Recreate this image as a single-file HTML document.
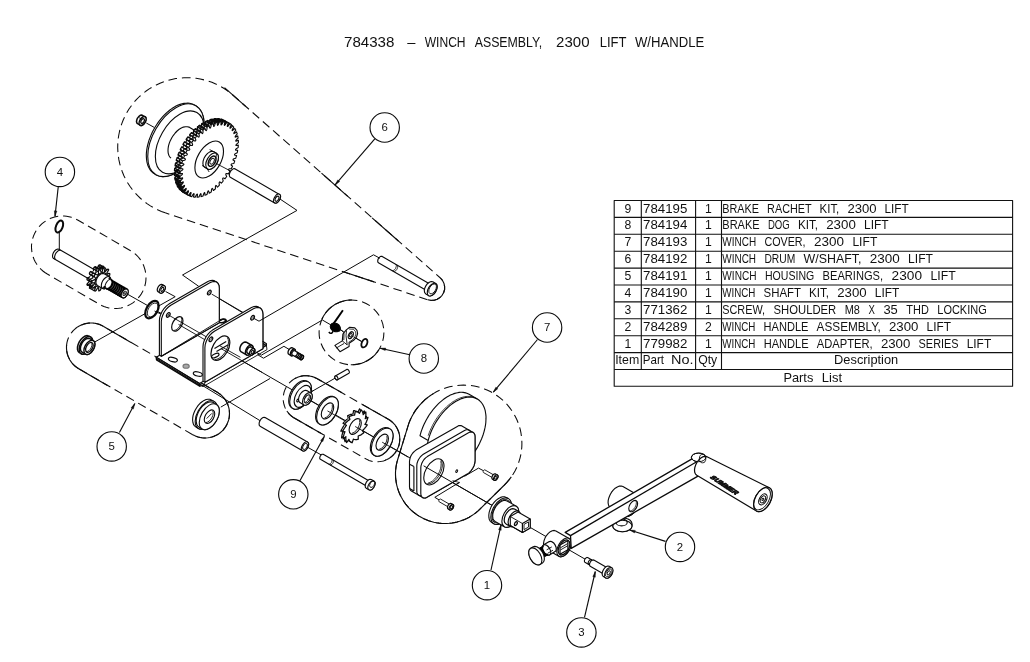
<!DOCTYPE html>
<html><head><meta charset="utf-8"><title>784338 - Winch Assembly</title>
<style>
html,body{margin:0;padding:0;background:#fff}
svg{display:block;will-change:transform;opacity:.999}
svg *{vector-effect:none}
.t{font-family:"Liberation Sans",sans-serif;fill:#111;stroke:none;word-spacing:3.5px}
.d{stroke-dasharray:8.7 4.9;stroke-width:1.05}
.thin path{stroke-width:1}
.bal circle{fill:#fff}
.tbl{stroke:#111;stroke-width:1.1}
.b{stroke-width:1.6}
</style></head><body>
<svg width="1030" height="662" viewBox="0 0 1030 662" fill="none" stroke="#0a0a0a" stroke-width="1.12" stroke-linejoin="round">
<rect width="1030" height="662" style="fill:#fff;stroke:none"/>
<g class="dash">
<path d="M165.2 212.8 161.4 211.4 157.6 209.8 154 207.9 150.4 205.9 147 203.6 143.7 201.1 140.6 198.5 137.7 195.7 134.9 192.7 132.3 189.5 129.9 186.2 127.6 182.8 125.6 179.2 123.8 175.5 122.3 171.7 120.9 167.9 119.8 163.9 118.9 159.9 118.3 155.9 117.9 151.8 117.7 147.7 117.8 143.6 118.1 139.6 118.7 135.5 119.5 131.5 120.5 127.5 121.8 123.6 123.3 119.8 125 116.1 126.9 112.5 129 109 131.4 105.7 133.9 102.4 136.6 99.4 139.5 96.5 142.6 93.8 145.8 91.3 149.2 88.9 152.7 86.8 156.3 84.9 160 83.2 163.8 81.7 167.7 80.4 171.7 79.4 175.7 78.6 179.8 78.1 183.9 77.8 188 77.7 192 77.9 196.1 78.3 200.2 79 204.1 79.9 208.1 81 211.9 82.3 215.7 83.9 219.4 85.7 222.9 87.8 226.4 90 229.7 92.4 232.8 95 440.4 278 442.5 280.4 443.9 283.2 444.6 286.3 444.6 289.5 443.7 292.5 442.1 295.3 439.9 297.6 437.2 299.2 434.2 300.2 431 300.4 427.9 299.8Z" class="d"/>
<path d="M46.9 273.8 44.9 272.5 42.9 271 41.1 269.4 39.4 267.7 37.9 265.8 36.5 263.8 35.2 261.7 34.1 259.5 33.3 257.3 32.5 254.9 32 252.6 31.7 250.2 31.5 247.7 31.5 245.3 31.8 242.9 32.2 240.5 32.8 238.1 33.6 235.8 34.6 233.6 35.7 231.4 37 229.4 38.5 227.4 40.1 225.6 41.8 223.9 43.7 222.4 45.7 221 47.8 219.7 50 218.6 52.2 217.8 54.6 217 56.9 216.5 59.3 216.2 61.8 216 64.2 216 66.6 216.3 69 216.7 71.4 217.3 73.7 218.1 75.9 219.1 78.1 220.2 130.6 250.7 132.7 252 134.7 253.5 136.5 255.2 138.3 257 139.8 258.9 141.2 261 142.5 263.2 143.6 265.4 144.4 267.8 145.1 270.2 145.6 272.6 145.9 275.1 146 277.6 145.9 280.1 145.6 282.6 145.1 285 144.4 287.4 143.5 289.7 142.4 292 141.2 294.1 139.7 296.2 138.1 298.1 136.4 299.9 134.5 301.6 132.5 303.1 130.4 304.4 128.2 305.5 125.9 306.5 123.5 307.3 121.1 307.9 118.7 308.3 116.2 308.5 113.7 308.5 111.2 308.3 108.7 307.9 106.3 307.3 103.9 306.5 101.6 305.5 99.4 304.3Z" class="d"/>
<path d="M78.7 368.7 77.1 367.7 75.6 366.5 74.1 365.3 72.8 363.9 71.5 362.4 70.4 360.8 69.5 359.2 68.6 357.4 67.9 355.7 67.3 353.8 66.9 351.9 66.6 350 66.5 348.1 66.5 346.2 66.7 344.3 67 342.4 67.5 340.5 68.1 338.7 68.9 336.9 69.8 335.2 70.8 333.6 72 332.1 73.2 330.6 74.6 329.3 76.1 328 77.7 326.9 79.3 326 81.1 325.1 82.8 324.4 84.7 323.8 86.6 323.4 88.5 323.1 90.4 323 92.3 323 94.2 323.2 96.1 323.5 98 324 99.8 324.6 101.6 325.4 103.3 326.3 217.3 392.3 218.9 393.4 220.5 394.5 222 395.9 223.4 397.3 224.6 398.8 225.7 400.4 226.7 402.1 227.6 403.9 228.2 405.8 228.8 407.7 229.2 409.6 229.4 411.6 229.5 413.5 229.4 415.5 229.2 417.5 228.8 419.4 228.2 421.3 227.5 423.1 226.7 424.9 225.7 426.6 224.6 428.2 223.3 429.8 222 431.2 220.5 432.5 218.9 433.7 217.2 434.7 215.5 435.6 213.7 436.4 211.8 437 209.9 437.5 207.9 437.8 206 438 204 438 202 437.8 200.1 437.5 198.2 437 196.3 436.4 194.5 435.6 192.7 434.7Z" class="d"/>
<path d="M294.7 418.3 293.2 417.4 291.7 416.3 290.4 415.1 289.1 413.8 288 412.5 286.9 411 286 409.5 285.2 407.9 284.5 406.2 284 404.5 283.6 402.8 283.3 401 283.2 399.2 283.2 397.4 283.4 395.6 283.7 393.9 284.1 392.1 284.7 390.4 285.4 388.8 286.2 387.2 287.1 385.7 288.2 384.2 289.4 382.9 290.7 381.6 292 380.5 293.5 379.4 295 378.5 296.6 377.7 298.3 377 300 376.5 301.7 376.1 303.5 375.8 305.3 375.7 307.1 375.7 308.9 375.9 310.6 376.2 312.4 376.6 314.1 377.2 315.7 377.9 317.3 378.7 388.3 419.2 389.9 420.2 391.3 421.3 392.7 422.5 394 423.8 395.2 425.2 396.2 426.7 397.1 428.3 397.9 430 398.6 431.7 399.1 433.4 399.5 435.2 399.7 437 399.8 438.9 399.7 440.7 399.5 442.5 399.2 444.3 398.7 446.1 398 447.8 397.2 449.5 396.3 451.1 395.3 452.6 394.1 454 392.9 455.4 391.5 456.6 390 457.7 388.5 458.7 386.9 459.5 385.2 460.3 383.5 460.9 381.7 461.3 379.9 461.6 378 461.8 376.2 461.8 374.4 461.6 372.6 461.4 370.8 460.9 369 460.4 367.3 459.6 365.7 458.8Z" class="d"/>
<path d="M407.9 426.3 409 422.9 410.3 419.7 411.9 416.5 413.6 413.4 415.5 410.4 417.6 407.6 419.9 404.9 422.3 402.3 424.8 399.8 427.6 397.6 430.4 395.5 433.4 393.6 436.4 391.8 439.6 390.3 442.9 388.9 446.2 387.8 449.6 386.8 453.1 386.1 456.6 385.5 460.1 385.2 463.6 385.1 467.2 385.2 470.7 385.5 474.2 386.1 477.6 386.8 481 387.8 484.4 388.9 487.6 390.3 490.8 391.8 493.9 393.6 496.8 395.5 499.7 397.6 502.4 399.9 505 402.3 507.4 404.9 509.6 407.6 511.7 410.5 513.6 413.4 515.3 416.5 516.9 419.7 518.2 423 519.3 426.3 520.3 429.7 521 433.2 521.5 436.7 521.8 440.2 521.9 443.8 521.8 447.3 521.4 450.8 520.9 454.3 520.1 457.8 519.1 461.1 518 464.5 516.6 467.7 515 470.9 513.2 474 511.3 476.9 509.2 479.7 506.9 482.4 504.4 485 479.7 509.3 477.8 511.1 475.8 512.8 473.7 514.4 471.5 515.8 469.2 517.2 466.9 518.4 464.6 519.5 462.1 520.4 459.6 521.3 457.1 522 454.6 522.6 452 523 449.4 523.3 446.8 523.5 444.2 523.5 441.5 523.4 438.9 523.1 436.3 522.7 433.8 522.2 431.2 521.5 428.7 520.8 426.3 519.8 423.9 518.8 421.6 517.6 419.3 516.3 417.1 514.9 415 513.3 412.9 511.7 411 510 409.1 508.1 407.4 506.2 405.7 504.1 404.2 502 402.8 499.8 401.5 497.5 400.3 495.2 399.2 492.8 398.3 490.4 397.5 487.9 396.8 485.3 396.3 482.8 395.9 480.2 395.6 477.6 395.5 475 395.5 472.3 395.7 469.7 396 467.1 396.4 464.6 397 462 397.7 459.5Z" class="d"/>
<circle cx="351.5" cy="332.4" r="32.4" class="d"/>
<path d="M321.9 319.1 322.6 317.7 323.4 316.3 324.2 315 325.1 313.7 326 312.4 327 311.2 328 310.1 329.1 308.9 330.3 307.9 331.5 306.9 332.8 306 334.1 305.1 335.4 304.3 336.8 303.5 338.2 302.9 339.6 302.2 341.1 301.7 342.6 301.2 344.1 300.9 345.7 300.5 347.2 300.3 348.8 300.1 350.3 300 351.9 300"/>
<path d="M378.8 349.9 378 351 377.2 352.2 376.3 353.2 375.4 354.3 374.4 355.3 373.5 356.2 372.4 357.1 371.3 358 370.2 358.8 369.1 359.6 367.9 360.3 366.7 361 365.5 361.6 364.2 362.2 362.9 362.7 361.6 363.2 360.3 363.6 359 363.9 357.6 364.2 356.3 364.4 354.9 364.6 353.5 364.7 352.1 364.8 350.8 364.8"/>
<path d="M224.5 87.7 245.6 106.3"/>
<path d="M321.5 173.2 347.7 196.3"/>
<path d="M372.1 217.8 398.4 241"/>
<path d="M344.2 272 373.9 281.9"/>
<path d="M440.4 278 442.5 280.4 443.9 283.2 444.6 286.3 444.6 289.5 443.7 292.5 442.1 295.3 439.9 297.6 437.2 299.2 434.2 300.2 431 300.4 427.9 299.8"/>
<path d="M78.8 368.7 77.7 368.1 76.8 367.4 75.8 366.7 74.9 366 74.1 365.2 73.2 364.4 72.4 363.5 71.7 362.6 71 361.6 70.3 360.7 69.7 359.7 69.2 358.6 68.7 357.6 68.2 356.5 67.8 355.4 67.4 354.3 67.2 353.1 66.9 352 66.7 350.8 66.6 349.6 66.5 348.5 66.5 347.3 66.5 346.1 66.6 344.9"/>
<path d="M77.3 327.2 78.3 326.6 79.2 326 80.3 325.5 81.3 325 82.4 324.6 83.4 324.2 84.5 323.9 85.6 323.6 86.7 323.4 87.9 323.2 89 323.1 90.1 323 91.3 323 92.4 323 93.6 323.1 94.7 323.3 95.8 323.5 96.9 323.7 98 324 99.1 324.4 100.2 324.8 101.2 325.2 102.2 325.7 103.2 326.3"/>
<path d="M103.2 326.3 131 342.4"/>
<path d="M217.3 392.3 218.9 393.4 220.5 394.5 222 395.9 223.4 397.3 224.6 398.8 225.7 400.4 226.7 402.1 227.6 403.9 228.2 405.8 228.8 407.7 229.2 409.6 229.4 411.6 229.5 413.5 229.4 415.5 229.2 417.5 228.8 419.4 228.2 421.3 227.5 423.1 226.7 424.9 225.7 426.6 224.6 428.2 223.3 429.8 222 431.2 220.5 432.5 218.9 433.7 217.2 434.7 215.5 435.6 213.7 436.4 211.8 437 209.9 437.5 207.9 437.8 206 438 204 438 202 437.8 200.1 437.5 198.2 437 196.3 436.4 194.5 435.6 192.7 434.7"/>
<path d="M78.7 368.7 107.5 385.4"/>
<path d="M217.3 392.3 200.5 382.6"/>
<path d="M511.3 476.9 509.2 479.7 506.9 482.4 504.4 485 479.7 509.3 477.8 511.1 475.8 512.8 473.7 514.4 471.5 515.8 469.2 517.2 466.9 518.4 464.6 519.5 462.1 520.4 459.6 521.3 457.1 522 454.6 522.6 452 523 449.4 523.3 446.8 523.5 444.2 523.5 441.5 523.4 438.9 523.1 436.3 522.7 433.8 522.2 431.2 521.5 428.7 520.8 426.3 519.8 423.9 518.8 421.6 517.6 419.3 516.3 417.1 514.9 415 513.3 412.9 511.7 411 510 409.1 508.1 407.4 506.2 405.7 504.1 404.2 502 402.8 499.8 401.5 497.5 400.3 495.2 399.2 492.8 398.3 490.4 397.5 487.9 396.8 485.3 396.3 482.8 395.9 480.2 395.6 477.6 395.5 475 395.5 472.3 395.7 469.7 396 467.1 396.4 464.6 397 462 397.7 459.5 407.9 426.3 409 422.9 410.3 419.7 411.9 416.5 413.6 413.4 415.5 410.4 417.6 407.6 419.9 404.9 422.3 402.3 424.8 399.8 427.6 397.6 430.4 395.5 433.4 393.6"/>
<path d="M294.7 418.3 293.2 417.4 291.7 416.3 290.4 415.1 289.1 413.8 288 412.5 286.9 411"/>
<path d="M295 378.5 296.6 377.7 298.3 377 300 376.5 301.7 376.1 303.5 375.8 305.3 375.7 307.1 375.7 308.9 375.9 310.6 376.2 312.4 376.6 314.1 377.2 315.7 377.9 317.3 378.7"/>
<path d="M317.3 378.7 342 392.8"/>
<path d="M294.7 418.3 320.8 433.2"/>
<path d="M362.3 404.4 388.3 419.2"/>
<path d="M388.3 419.2 389.9 420.2 391.3 421.3 392.7 422.5 394 423.8 395.2 425.2 396.2 426.7 397.1 428.3 397.9 430 398.6 431.7 399.1 433.4 399.5 435.2 399.7 437 399.8 438.9 399.7 440.7 399.5 442.5 399.2 444.3 398.7 446.1 398 447.8 397.2 449.5 396.3 451.1 395.3 452.6 394.1 454 392.9 455.4 391.5 456.6 390 457.7 388.5 458.7 386.9 459.5 385.2 460.3"/>
</g>
<g class="thin">
<path d="M277 197 297 210.4 182.5 275 198.7 286.3"/>
<path d="M146.3 123 154.2 127.4"/>
<path d="M59.3 231.5 59.3 249.2"/>
<path d="M127 293.9 147.7 305.6"/>
<path d="M165.6 291.5 175.2 296.7 94.7 342"/>
<path d="M211.7 294.1 242.1 312.4"/>
<path d="M157 311.2 210.8 339.3"/>
<path d="M176.9 323.2 585.7 559.5"/>
<path d="M220.8 407.1 270 378.5"/>
<path d="M200 384 260.6 421"/>
<path d="M307.7 447.3 321.7 455.2"/>
<path d="M336.4 377.4 311.1 391.9"/>
<path d="M340 329 345.2 333.7"/>
<path d="M352.1 335.8 361.8 341.6"/>
<path d="M456.7 471.1 464.5 475"/>
<path d="M464.5 476.3 478.5 468.1 484 471"/>
<path d="M459.3 482.4 434.8 497.3 440 500.5"/>
</g>
<g id="i6">
<path d="M137.6 123.7 136.8 122.9 136.5 121.5 136.8 119.8 137.5 118.1 138.7 116.6 140 115.5 141.3 115 142.4 115.3 145 116.8 145.8 117.6 146.1 119 145.8 120.7 145 122.4 143.9 123.9 142.6 125 141.3 125.5 140.1 125.2Z" fill="#fff" stroke-width="1.5"/>
<ellipse rx="2.8" ry="4.9" transform="translate(142.6 121) rotate(30)" fill="#fff" stroke-width="1.5"/>
<ellipse rx="1.5" ry="2.6" transform="translate(142.6 121) rotate(30)" stroke-width="1.3"/>
<path d="M138.8 117.5 141.4 119" stroke-width="0.8"/>
<path d="M154.6 173.9 153.2 173 151.9 171.9 150.7 170.6 149.7 169.1 148.8 167.5 148 165.8 147.4 163.9 146.9 161.9 146.6 159.7 146.4 157.5 146.3 155.1 146.4 152.7 146.7 150.2 147.1 147.6 147.7 145 148.4 142.4 149.2 139.7 150.2 137.1 151.3 134.4 152.5 131.8 153.9 129.2 155.3 126.7 156.9 124.3 158.5 121.9 160.3 119.6 162.1 117.4 163.9 115.4 165.9 113.5 167.9 111.7 169.9 110 171.9 108.6 174 107.3 176 106.1 178.1 105.1 180.1 104.4 182.1 103.8 184 103.4 186 103.2 187.8 103.1 189.6 103.3 191.3 103.7 192.9 104.2 194.4 105 195.8 105.8 197.2 106.7 198.4 107.8 199.6 109.1 200.7 110.6 201.6 112.2 202.3 113.9 203 115.8 203.4 117.8 203.8 120 204 122.2 204 124.6 203.9 127 203.6 129.5 203.2 132.1 202.7 134.7 202 137.3 201.1 140 200.1 142.6 199 145.3 197.8 147.9 196.5 150.5 195 153 193.5 155.4 191.8 157.8 190.1 160.1 188.3 162.3 186.4 164.3 184.5 166.2 182.5 168 180.5 169.7 178.4 171.1 176.4 172.4 174.3 173.6 172.3 174.6 170.2 175.3 168.2 175.9 166.3 176.3 164.4 176.5 162.5 176.6 160.8 176.4 159.1 176 157.5 175.5 156 174.7Z" fill="#fff"/>
<ellipse rx="23" ry="39.8" transform="translate(175.9 140.2) rotate(30)" fill="#fff"/>
<ellipse rx="19.9" ry="34.4" transform="translate(179.7 142.4) rotate(30)"/>
<path d="M171 158.1 169.7 156.8 168.8 155.2 168.2 153.2 168 150.9 168.1 148.5 168.5 145.8 169.3 143.1 170.4 140.4 171.8 137.8 173.4 135.3 175.2 133 177.1 131 179.2 129.3 181.3 128 183.4 127.1 185.4 126.7 187.3 126.7 189 127.1 190.5 128 200.9 134"/>
<path d="M224.3 168.2 224 168.7 223.7 169.2 223.4 169.7 223.1 170.2 222.8 170.7 221.3 170.3 220.6 170.4 220.3 170.9 220.4 171.7 221.2 173.2 220.8 173.7 220.5 174.1 220.1 174.6 219.8 175.1 219.5 175.6 218.1 174.8 217.5 174.8 217.1 175.2 217.1 176 217.7 177.8 217.3 178.3 216.9 178.7 216.5 179.1 216.2 179.5 215.8 180 214.7 178.9 214.1 178.7 213.7 179.1 213.6 180 213.9 182 213.5 182.4 213.1 182.8 212.7 183.2 212.3 183.5 211.9 183.9 211 182.5 210.5 182.2 210.1 182.6 209.9 183.5 209.9 185.7 209.5 186 209.1 186.3 208.6 186.7 208.2 187 207.8 187.3 207.2 185.6 206.7 185.2 206.3 185.5 206 186.4 205.7 188.7 205.3 189 204.9 189.3 204.5 189.5 204.1 189.8 203.7 190 203.3 188.1 202.9 187.6 202.5 187.8 202.1 188.7 201.6 191.1 201.2 191.3 200.7 191.5 200.3 191.7 199.9 191.9 199.5 192.1 199.4 190 199.1 189.3 198.7 189.5 198.2 190.4 197.5 192.8 197 193 196.6 193.1 196.2 193.2 195.8 193.3 195.4 193.4 195.6 191.1 195.4 190.4 195 190.5 194.5 191.4 193.5 193.8 193.1 193.8 192.7 193.9 192.3 193.9 191.9 194 191.5 194 191.9 191.6 191.9 190.8 191.5 190.8 190.9 191.6 189.7 194 189.3 194 188.9 193.9 188.6 193.9 188.2 193.8 187.9 193.8 188.5 191.4 188.6 190.5 188.3 190.4 187.6 191.1 186.2 193.4 185.8 193.3 185.5 193.2 185.2 193.1 184.9 193 184.5 192.8 185.5 190.4 185.6 189.5 185.3 189.3 184.6 190 183 192.1 182.7 191.9 182.4 191.7 182.1 191.5 181.9 191.3 181.6 191.1 182.7 188.7 183 187.8 182.7 187.6 182 188.1 180.3 190 180 189.8 179.8 189.5 179.6 189.3 179.3 189 179.1 188.7 180.4 186.4 180.8 185.5 180.6 185.2 179.8 185.6 178 187.3 177.8 186.9 177.6 186.6 177.5 186.3 177.3 186 177.1 185.6 178.6 183.5 179 182.5 178.9 182.2 178.2 182.5 176.3 183.9 176.2 183.5 176 183.1 175.9 182.8 175.8 182.4 175.6 182 177.3 180 177.8 179.1 177.7 178.7 177 178.8 175.1 179.9 175 179.5 175 179.1 174.9 178.7 174.8 178.2 174.8 177.8 176.5 176 177.1 175.2 177.1 174.7 176.4 174.7 174.5 175.5 174.5 175.1 174.5 174.6 174.5 174.1 174.5 173.6 174.5 173.2 176.3 171.6 176.9 170.8 177 170.4 176.4 170.3 174.5 170.7 174.6 170.2 174.6 169.7 174.6 169.2 174.7 168.7 174.8 168.2 176.6 167 177.3 166.2 177.4 165.8 176.9 165.5 175.1 165.6 175.2 165.1 175.3 164.6 175.4 164 175.5 163.5 175.6 163 177.5 162.1 178.2 161.4 178.4 161 177.9 160.6 176.3 160.3 176.4 159.8 176.6 159.2 176.8 158.7 176.9 158.2 177.1 157.6 178.9 157 179.7 156.5 179.8 156 179.5 155.5 178 154.9 178.2 154.4 178.4 153.9 178.7 153.3 178.9 152.8 179.1 152.3 180.9 152 181.6 151.6 181.8 151.1 181.5 150.5 180.3 149.6 180.5 149.1 180.8 148.5 181.1 148 181.3 147.5 181.6 147 183.2 147.1 184 146.8 184.2 146.3 184 145.6 183 144.4 183.3 143.9 183.6 143.4 183.9 142.9 184.2 142.4 184.5 141.9 186 142.3 186.7 142.2 187 141.7 187 140.9 186.2 139.4 186.5 138.9 186.8 138.5 187.2 138 187.5 137.5 187.9 137 189.2 137.8 189.9 137.8 190.2 137.4 190.2 136.6 189.7 134.8 190 134.3 190.4 133.9 190.8 133.5 191.1 133.1 191.5 132.6 192.7 133.7 193.3 133.9 193.6 133.5 193.7 132.6 193.5 130.6 193.8 130.2 194.2 129.8 194.6 129.4 195 129.1 195.4 128.7 196.3 130.1 196.9 130.4 197.2 130 197.5 129.1 197.5 126.9 197.9 126.6 198.3 126.3 198.7 125.9 199.1 125.6 199.5 125.3 200.2 127 200.6 127.4 201 127.1 201.3 126.2 201.6 123.9 202 123.6 202.4 123.3 202.8 123.1 203.2 122.8 203.7 122.6 204.1 124.5 204.4 125 204.8 124.8 205.2 123.9 205.7 121.5 206.2 121.3 206.6 121.1 207 120.9 207.4 120.7 207.8 120.5 207.9 122.6 208.2 123.3 208.6 123.1 209.1 122.2 209.9 119.8 210.3 119.6 210.7 119.5 211.1 119.4 211.5 119.3 211.9 119.2 211.7 121.5 211.9 122.2 212.3 122.1 212.9 121.2 213.9 118.8 214.3 118.8 214.6 118.7 215 118.7 215.4 118.6 215.8 118.6 215.4 121 215.5 121.8 215.8 121.8 216.4 121 217.7 118.6 218 118.6 218.4 118.7 218.7 118.7 219.1 118.8 219.4 118.8 218.8 121.2 218.8 122.1 219.1 122.2 219.7 121.5 221.2 119.2 221.5 119.3 221.8 119.4 222.1 119.5 222.5 119.6 222.8 119.8 221.9 122.2 221.7 123.1 222 123.3 222.7 122.6 224.3 120.5 224.6 120.7 224.9 120.9 225.2 121.1 225.5 121.3 225.7 121.5 224.6 123.9 224.4 124.8 224.6 125 225.3 124.5 227 122.6 227.3 122.8 227.5 123.1 227.8 123.3 228 123.6 228.2 123.9 226.9 126.2 226.6 127.1 226.7 127.4 227.5 127 229.3 125.3 229.5 125.7 229.7 126 229.9 126.3 230.1 126.6 230.2 127 228.7 129.1 228.3 130.1 228.4 130.4 229.2 130.1 231 128.7 231.2 129.1 231.3 129.5 231.4 129.8 231.6 130.2 231.7 130.6 230 132.6 229.5 133.5 229.6 133.9 230.3 133.8 232.2 132.7 232.3 133.1 232.4 133.5 232.4 133.9 232.5 134.4 232.6 134.8 230.8 136.6 230.2 137.4 230.3 137.9 230.9 137.9 232.8 137.1 232.8 137.5 232.8 138 232.9 138.5 232.9 139 232.9 139.4 231 141 230.4 141.8 230.4 142.2 231 142.3 232.8 141.9 232.8 142.4 232.7 142.9 232.7 143.4 232.6 143.9 232.6 144.4 230.7 145.6 230 146.4 229.9 146.8 230.5 147.1 232.2 147 232.1 147.5 232 148 231.9 148.6 231.8 149.1 231.7 149.6 229.8 150.5 229.1 151.2 229 151.6 229.4 152 231 152.3 230.9 152.8 230.7 153.4 230.6 153.9 230.4 154.4 230.2 155 228.4 155.6 227.7 156.1 227.5 156.6 227.9 157.1 229.3 157.7 229.1 158.2 228.9 158.7 228.7 159.3 228.5 159.8 228.2 160.3 226.5 160.6 225.7 161 225.5 161.5 225.8 162.1 227 163 226.8 163.5 226.5 164.1 226.3 164.6 226 165.1 225.7 165.6 224.1 165.5 223.4 165.8 223.1 166.3 223.3 167Z" fill="#fff" stroke-width="1.35"/>
<path d="M184.8 188.9 183.4 188 182.2 186.9 181 185.6 180 184.1 179.1 182.5 178.4 180.7 177.8 178.8 177.4 176.7 177.1 174.6 177 172.3 177 169.9 177.2 167.4 177.6 164.9 178.1 162.3 178.7 159.7 179.5 157.1 180.5 154.5 181.6 151.8 182.8 149.2 184.1 146.7 185.5 144.2 187.1 141.7 188.7 139.4 190.5 137.2 192.3 135 194.2 133 196.1 131.1 198.1 129.4 200.1 127.9 202.1 126.5 204.2 125.2 206.2 124.2 208.2 123.3 210.2 122.7 212.2 122.2 214.1 121.9 215.9 121.9 217.7 122 219.4 122.4 221 122.9 222.5 123.7 228.1 126.9 226.6 126.1 225 125.6 223.3 125.2 221.5 125.1 219.6 125.1 217.7 125.4 215.8 125.9 213.8 126.5 211.8 127.4 209.7 128.4 207.7 129.7 205.6 131.1 203.6 132.6 201.6 134.3 199.7 136.2 197.8 138.2 196 140.4 194.3 142.6 192.6 144.9 191.1 147.4 189.6 149.9 188.3 152.4 187.1 155 186 157.7 185.1 160.3 184.3 162.9 183.6 165.5 183.1 168.1 182.8 170.6 182.6 173.1 182.5 175.5 182.7 177.8 182.9 179.9 183.4 182 183.9 183.9 184.7 185.7 185.5 187.3 186.6 188.8 187.7 190.1 189 191.2 190.4 192.1Z" fill="#fff" stroke-width="0"/>
<path d="M186.2 193.4L191.7 196.6M184.5 192.8L190.1 196M183 192.1L188.6 195.3M181.6 191.1L187.1 194.3M180.3 190L185.8 193.2M179.1 188.7L184.6 191.9M178 187.3L183.6 190.5M177.1 185.6L182.6 188.8M176.3 183.9L181.8 187.1M175.6 182L181.2 185.2M175.1 179.9L180.7 183.1M174.8 177.8L180.3 181M174.5 175.5L180.1 178.7M174.5 173.2L180 176.4M174.5 170.7L180.1 173.9M174.8 168.2L180.3 171.4M175.1 165.6L180.7 168.8M175.6 163L181.2 166.2M176.3 160.3L181.8 163.5M177.1 157.6L182.6 160.8M178 154.9L183.6 158.1M179.1 152.3L184.6 155.5M180.3 149.6L185.8 152.8M181.6 147L187.1 150.2M183 144.4L188.6 147.6M184.5 141.9L190.1 145.1M186.2 139.4L191.7 142.6M187.9 137L193.4 140.2M189.7 134.8L195.2 138M191.5 132.6L197.1 135.8M193.5 130.6L199 133.8M195.4 128.7L201 131.9M197.5 126.9L203 130.1M199.5 125.3L205 128.5M201.6 123.9L207.1 127.1M203.7 122.6L209.2 125.8M205.7 121.5L211.3 124.7M207.8 120.5L213.4 123.7M209.9 119.8L215.4 123M211.9 119.2L217.4 122.4M213.9 118.8L219.4 122M215.8 118.6L221.3 121.8M217.7 118.6L223.2 121.8M219.4 118.8L225 122M221.2 119.2L226.7 122.4M222.8 119.8L228.3 123M224.3 120.5L229.9 123.7M225.7 121.5L231.3 124.7M227 122.6L232.6 125.8" stroke-width="1.35"/>
<path d="M185.7 189.4 185.5 189.2 184.8 189.7 183.1 191.6 182.8 191.4 182.6 191.1 182.3 190.9 182.1 190.6 181.9 190.3 183.2 188 183.5 187.1 183.3 186.8 182.6 187.2 180.8 188.9 180.6 188.5 180.4 188.2 180.2 187.9 180 187.6 179.9 187.2 181.4 185.1 181.8 184.1 181.7 183.8 180.9 184.1 179.1 185.5 178.9 185.1 178.8 184.7 178.7 184.4 178.5 184 178.4 183.6 180.1 181.6 180.6 180.7 180.5 180.3 179.8 180.4 177.9 181.5 177.8 181.1 177.7 180.7 177.7 180.3 177.6 179.8 177.5 179.4 179.3 177.6 179.9 176.8 179.8 176.3 179.2 176.3 177.3 177.1 177.3 176.7 177.3 176.2 177.2 175.7 177.2 175.2 177.2 174.8 179.1 173.2 179.7 172.4 179.7 172 179.1 171.9 177.3 172.3 177.3 171.8 177.4 171.3 177.4 170.8 177.5 170.3 177.5 169.8 179.4 168.6 180.1 167.8 180.2 167.4 179.6 167.1 177.9 167.2 178 166.7 178.1 166.2 178.2 165.6 178.3 165.1 178.4 164.6 180.3 163.7 181 163 181.1 162.6 180.7 162.2 179.1 161.9 179.2 161.4 179.4 160.8 179.5 160.3 179.7 159.8 179.9 159.2 181.7 158.6 182.4 158.1 182.6 157.6 182.2 157.1 180.8 156.5 181 156 181.2 155.5 181.4 154.9 181.6 154.4 181.9 153.9 183.6 153.6 184.4 153.2 184.6 152.7 184.3 152.1 183.1 151.2 183.3 150.7 183.6 150.1 183.8 149.6 184.1 149.1 184.4 148.6 186 148.7 186.7 148.4 187 147.9 186.8 147.2 185.8 146 186.1 145.5 186.4 145 186.7 144.5 187 144 187.3 143.5 188.8 143.9 189.5 143.8 189.8 143.3 189.7 142.5 188.9 141 189.3 140.5 189.6 140.1 189.9 139.6 190.3 139.1 190.6 138.6 192 139.4 192.6 139.4 193 139 193 138.2 192.4 136.4 192.8 135.9 193.2 135.5 193.5 135.1 193.9 134.7 194.3 134.2 195.4 135.3 196 135.5 196.4 135.1 196.5 134.2 196.2 132.2 196.6 131.8 197 131.4 197.4 131 197.8 130.7 198.2 130.3 199.1 131.7 199.6 132 200 131.6 200.2 130.7 200.2 128.5 200.6 128.2 201 127.9 201.5 127.5 201.9 127.2 202.3 126.9 202.9 128.6 203.4 129 203.8 128.7 204.1 127.8 204.3 125.5 204.8 125.2 205.2 124.9 205.6 124.7 206 124.4 206.4 124.2 206.8 126.1 207.2 126.6 207.6 126.4 208 125.5 208.5 123.1 208.9 122.9 209.3 122.7 209.8 122.5 210.2 122.3 210.6 122.1 210.7 124.2 211 124.9 211.4 124.7 211.9 123.8 212.6 121.4 213 121.2 213.5 121.1 213.9 121 214.3 120.9 214.7 120.8 214.5 123.1 214.7 123.8 215.1 123.7 215.6 122.8 216.6 120.4 217 120.4 217.4 120.3 217.8 120.3 218.2 120.2 218.6 120.2 218.1 122.6 218.2 123.4 218.6 123.4 219.2 122.6 220.4 120.2 220.8 120.2 221.2 120.3 221.5 120.3 221.9 120.4 222.2 120.4 221.5 122.8 221.5 123.7 221.8 123.8 222.5 123.1 223.9 120.8 224.3 120.9 224.6 121 224.9 121.1" stroke-width="1.35"/>
<path d="M229.9 171.4 229.6 171.9 229.3 172.4 229 172.9 228.6 173.4 228.3 173.9 226.8 173.5 226.1 173.6 225.8 174.1 225.9 174.9 226.7 176.4 226.4 176.9 226 177.3 225.7 177.8 225.3 178.3 225 178.8 223.7 178 223 178 222.7 178.4 222.7 179.2 223.2 181 222.8 181.5 222.5 181.9 222.1 182.3 221.7 182.7 221.3 183.2 220.2 182.1 219.6 181.9 219.3 182.3 219.1 183.2 219.4 185.2 219 185.6 218.6 186 218.2 186.4 217.8 186.7 217.4 187.1 216.5 185.7 216 185.4 215.6 185.8 215.4 186.7 215.4 188.9 215 189.2 214.6 189.5 214.2 189.9 213.8 190.2 213.4 190.5 212.7 188.8 212.3 188.4 211.9 188.7 211.5 189.6 211.3 191.9 210.9 192.2 210.5 192.5 210 192.7 209.6 193 209.2 193.2 208.8 191.3 208.4 190.8 208.1 191 207.6 191.9 207.1 194.3 206.7 194.5 206.3 194.7 205.9 194.9 205.5 195.1 205 195.3 204.9 193.2 204.6 192.5 204.3 192.7 203.8 193.6 203 196 202.6 196.2 202.2 196.3 201.8 196.4 201.4 196.5 201 196.6 201.1 194.3 200.9 193.6 200.6 193.7 200 194.6 199 197 198.6 197 198.2 197.1 197.8 197.1 197.5 197.2 197.1 197.2 197.5 194.8 197.4 194 197.1 194 196.4 194.8 195.2 197.2 194.8 197.2 194.5 197.1 194.1 197.1 193.8 197 193.4 197 194.1 194.6 194.1 193.7 193.8 193.6 193.1 194.3 191.7 196.6 191.4 196.5 191 196.4 190.7 196.3 190.4 196.2 190.1 196 191 193.6 191.1 192.7 190.8 192.5 190.1 193.2 188.6 195.3 188.3 195.1 188 194.9 187.7 194.7 187.4 194.5 187.1 194.3 188.3 191.9 188.5 191 188.3 190.8 187.5 191.3 185.8 193.2 185.6 193 185.3 192.7 185.1 192.5 184.9 192.2 184.6 191.9 186 189.6 186.3 188.7 186.1 188.4 185.4 188.8 183.6 190.5 183.4 190.1 183.2 189.8 183 189.5 182.8 189.2 182.6 188.8 184.2 186.7 184.6 185.7 184.4 185.4 183.7 185.7 181.8 187.1 181.7 186.7 181.6 186.3 181.4 186 181.3 185.6 181.2 185.2 182.9 183.2 183.3 182.3 183.3 181.9 182.6 182 180.7 183.1 180.6 182.7 180.5 182.3 180.4 181.9 180.4 181.4 180.3 181 182.1 179.2 182.6 178.4 182.6 177.9 181.9 177.9 180.1 178.7 180 178.3 180 177.8 180 177.3 180 176.8 180 176.4 181.9 174.8 182.5 174 182.5 173.6 181.9 173.5 180.1 173.9 180.1 173.4 180.1 172.9 180.2 172.4 180.2 171.9 180.3 171.4 182.2 170.2 182.9 169.4 182.9 169 182.4 168.7 180.7 168.8 180.8 168.3 180.9 167.8 181 167.2 181.1 166.7 181.2 166.2 183.1 165.3 183.8 164.6 183.9 164.2 183.4 163.8 181.8 163.5 182 163 182.1 162.4 182.3 161.9 182.5 161.4 182.6 160.8 184.5 160.2 185.2 159.7 185.4 159.2 185 158.7 183.6 158.1 183.8 157.6 184 157.1 184.2 156.5 184.4 156 184.6 155.5 186.4 155.2 187.1 154.8 187.4 154.3 187.1 153.7 185.8 152.8 186.1 152.3 186.3 151.7 186.6 151.2 186.9 150.7 187.1 150.2 188.8 150.3 189.5 150 189.8 149.5 189.6 148.8 188.6 147.6 188.8 147.1 189.1 146.6 189.5 146.1 189.8 145.6 190.1 145.1 191.6 145.5 192.3 145.4 192.6 144.9 192.5 144.1 191.7 142.6 192 142.1 192.4 141.7 192.7 141.2 193.1 140.7 193.4 140.2 194.7 141 195.4 141 195.7 140.6 195.8 139.8 195.2 138 195.6 137.5 195.9 137.1 196.3 136.7 196.7 136.3 197.1 135.8 198.2 136.9 198.8 137.1 199.1 136.7 199.3 135.8 199 133.8 199.4 133.4 199.8 133 200.2 132.6 200.6 132.3 201 131.9 201.9 133.3 202.4 133.6 202.8 133.2 203 132.3 203 130.1 203.4 129.8 203.8 129.5 204.2 129.1 204.6 128.8 205 128.5 205.7 130.2 206.2 130.6 206.5 130.3 206.9 129.4 207.1 127.1 207.5 126.8 208 126.5 208.4 126.3 208.8 126 209.2 125.8 209.6 127.7 210 128.2 210.3 128 210.8 127.1 211.3 124.7 211.7 124.5 212.1 124.3 212.5 124.1 212.9 123.9 213.4 123.7 213.5 125.8 213.8 126.5 214.1 126.3 214.6 125.4 215.4 123 215.8 122.8 216.2 122.7 216.6 122.6 217 122.5 217.4 122.4 217.3 124.7 217.5 125.4 217.8 125.3 218.4 124.4 219.4 122 219.8 122 220.2 121.9 220.6 121.9 221 121.8 221.3 121.8 220.9 124.2 221 125 221.3 125 222 124.2 223.2 121.8 223.6 121.8 223.9 121.9 224.3 121.9 224.6 122 225 122 224.3 124.4 224.3 125.3 224.6 125.4 225.3 124.7 226.7 122.4 227 122.5 227.4 122.6 227.7 122.7 228 122.8 228.3 123 227.4 125.4 227.3 126.3 227.6 126.5 228.3 125.8 229.9 123.7 230.1 123.9 230.4 124.1 230.7 124.3 231 124.5 231.3 124.7 230.1 127.1 229.9 128 230.1 128.2 230.9 127.7 232.6 125.8 232.8 126 233.1 126.3 233.3 126.5 233.5 126.8 233.8 127.1 232.4 129.4 232.1 130.3 232.3 130.6 233 130.2 234.8 128.5 235 128.9 235.2 129.2 235.4 129.5 235.6 129.8 235.8 130.2 234.2 132.3 233.8 133.3 234 133.6 234.7 133.3 236.6 131.9 236.7 132.3 236.8 132.7 237 133 237.1 133.4 237.2 133.8 235.6 135.8 235.1 136.7 235.2 137.1 235.8 137 237.7 135.9 237.8 136.3 237.9 136.7 238 137.1 238 137.6 238.1 138 236.3 139.8 235.8 140.6 235.8 141.1 236.5 141.1 238.3 140.3 238.4 140.7 238.4 141.2 238.4 141.7 238.4 142.2 238.4 142.6 236.6 144.2 235.9 145 235.9 145.4 236.5 145.5 238.3 145.1 238.3 145.6 238.3 146.1 238.2 146.6 238.2 147.1 238.1 147.6 236.2 148.8 235.5 149.6 235.5 150 236 150.3 237.7 150.2 237.6 150.7 237.6 151.2 237.4 151.8 237.3 152.3 237.2 152.8 235.3 153.7 234.6 154.4 234.5 154.8 235 155.2 236.6 155.5 236.4 156 236.3 156.6 236.1 157.1 235.9 157.6 235.8 158.2 233.9 158.8 233.2 159.3 233 159.8 233.4 160.3 234.8 160.9 234.6 161.4 234.4 161.9 234.2 162.5 234 163 233.8 163.5 232 163.8 231.3 164.2 231.1 164.7 231.3 165.3 232.6 166.2 232.3 166.7 232.1 167.3 231.8 167.8 231.5 168.3 231.3 168.8 229.6 168.7 228.9 169 228.6 169.5 228.8 170.2Z" fill="#fff" stroke-width="1.1"/>
<ellipse rx="11.7" ry="20.2" transform="translate(209.2 159.5) rotate(30)"/>
<path d="M204.7 167.3 203.4 165.9 202.9 163.8 203.1 161.1 204 158.3 205.6 155.6 207.6 153.4 209.8 151.9 211.9 151.3 213.7 151.7 216.6 153.4 217.9 154.8 218.5 156.9 218.3 159.6 217.4 162.4 215.8 165.1 213.8 167.3 211.6 168.8 209.5 169.4 207.6 169Z" fill="#fff"/>
<ellipse rx="5.2" ry="9" transform="translate(212.1 161.2) rotate(30)" fill="#fff"/>
<ellipse rx="3.2" ry="5.6" transform="translate(212.1 161.2) rotate(30)" stroke-width="1.5"/>
<ellipse rx="1.8" ry="3.2" transform="translate(212.1 161.2) rotate(30)" stroke-width="0.9"/>
<path d="M209.6 149.6 216.6 153 215.8 158.6" stroke-width="0.9"/>
<path d="M202 165.4 207 168.6 209.2 172" stroke-width="0.9"/>
<path d="M215.6 163.2 232.8 172.2" stroke-width="0.9"/>
<path d="M230.3 177.3 229.6 176.5 229.3 175.1 229.6 173.4 230.3 171.7 231.4 170.2 232.8 169.1 234.1 168.6 235.2 168.9 279.5 194.4 280.2 195.3 280.5 196.6 280.2 198.3 279.5 200.1 278.3 201.6 277 202.7 275.7 203.1 274.6 202.9Z" fill="#fff"/>
<ellipse rx="2.8" ry="4.9" transform="translate(277 198.6) rotate(30)" fill="#fff"/>
<ellipse rx="1.6" ry="2.8" transform="translate(277 198.7) rotate(30)"/>
</g>
<g id="i4">
<ellipse rx="3.3" ry="6.3" transform="translate(59.3 226.6) rotate(22)" stroke-width="2"/>
<path d="M53.6 258.6 52.8 257.6 52.5 256.1 52.8 254.2 53.6 252.3 54.8 250.7 56.3 249.5 57.8 249 59 249.2 98.8 272.2 99.7 273.2 100 274.7 99.7 276.6 98.8 278.5 97.6 280.1 96.1 281.3 94.7 281.8 93.4 281.6Z" fill="#fff"/>
<path d="M55.5 259.6 54.7 258.4 54.6 256.6 55.2 254.6 56.3 252.6 57.8 251.1 59.4 250.3 60.8 250.3"/>
<path d="M99.7 280.4 100.4 282.2 100.3 283.4 99.7 284.1 99.1 284.8 97.9 283.5 97.3 283.1 96.8 283.5 96.4 283.8 95.9 286.3 95.3 287.6 94.6 287.9 94 288.2 93.9 285.9 93.7 284.9 93.3 285 92.8 285 91.4 287.4 90.4 288.3 89.9 288.2 89.4 287.9 90.4 285.4 90.8 284.1 90.5 283.8 90.3 283.5 88.4 285.1 87.3 285.4 87.1 284.8 87 284.2 88.7 282.1 89.5 281 89.5 280.4 89.5 279.9 87.7 280.2 87 279.7 87.1 278.9 87.3 278 89.3 277.1 90.3 276.5 90.5 275.9 90.8 275.3 89.6 274.1 89.4 273.1 89.9 272.3 90.4 271.5 92 272 92.8 272.1 93.2 271.6 93.6 271.2 93.5 268.9 93.9 267.6 94.6 267.1 95.2 266.6 95.9 268.4 96.3 269.2 96.8 269 97.2 268.8 98.2 266.2 99 265 99.6 265 100.2 265 99.8 267.5 99.7 268.7 100 268.8 100.4 268.9 102.1 266.9 103.2 266.2 103.5 266.6 103.9 267.1 102.4 269.5 101.8 270.7 102 271.1 102.1 271.6 104.1 270.6 105 270.7 105 271.5 105 272.2 103 273.8 102.1 274.7 102 275.3 101.8 275.8 103.4 276.3 103.9 277.1 103.6 278 103.2 278.8 101.3 279 100.4 279.3 100.1 279.9Z" fill="#fff" stroke-width="1.3"/>
<path d="M91.4 284.5 90.1 283.2 89.5 281.1 89.7 278.4 90.7 275.5 92.2 272.8 94.2 270.6 96.4 269.1 98.6 268.5 100.4 269 105.2 271.8 103.4 271.3 101.3 271.9 99.1 273.4 97.1 275.6 95.5 278.3 94.6 281.2 94.4 283.9 95 286 96.2 287.3Z" fill="#fff" stroke-width="0"/>
<path d="M89.4 287.9L94.3 290.7M88.4 285.1L93.2 287.9M87 284.2L91.8 287M87.7 280.2L92.5 283M87.3 278L92.2 280.8M89.6 274.1L94.5 276.9M90.4 271.5L95.2 274.3M93.5 268.9L98.4 271.7M95.2 266.6L100 269.4M98.2 266.2L103 269M100.2 265L105.1 267.8M102.1 266.9L107 269.7" stroke-width="1.3"/>
<path d="M93.2 285.5 93 285.2 92.7 284.9 90.8 286.5 89.8 286.8 89.6 286.2 89.4 285.6 91.2 283.5 92 282.4 91.9 281.8 92 281.3 90.1 281.6 89.4 281.1 89.5 280.3 89.7 279.4 91.7 278.5 92.7 277.9 92.9 277.3 93.2 276.7 92 275.5 91.8 274.5 92.3 273.7 92.8 272.9 94.4 273.4 95.2 273.5 95.6 273 96.1 272.6 95.9 270.3 96.3 269 97 268.5 97.6 268 98.3 269.8 98.7 270.6 99.2 270.4 99.6 270.2 100.6 267.6 101.5 266.4 102.1 266.4 102.6 266.4 102.2 268.9 102.1 270.1" stroke-width="1.3"/>
<path d="M104.6 283.2 105.2 285 105.1 286.2 104.5 286.9 103.9 287.6 102.8 286.3 102.1 285.9 101.7 286.3 101.2 286.6 100.8 289.1 100.1 290.4 99.5 290.7 98.8 291 98.7 288.7 98.5 287.7 98.1 287.8 97.7 287.8 96.3 290.2 95.3 291.1 94.8 291 94.3 290.7 95.3 288.2 95.6 286.9 95.4 286.6 95.2 286.3 93.2 287.9 92.2 288.2 92 287.6 91.8 287 93.6 284.9 94.4 283.8 94.4 283.2 94.4 282.7 92.5 283 91.8 282.5 92 281.7 92.2 280.8 94.2 279.9 95.1 279.3 95.4 278.7 95.6 278.1 94.5 276.9 94.3 275.9 94.7 275.1 95.2 274.3 96.8 274.8 97.7 274.9 98.1 274.4 98.5 274 98.4 271.7 98.8 270.4 99.4 269.9 100 269.4 100.7 271.2 101.2 272 101.6 271.8 102.1 271.6 103 269 103.9 267.8 104.5 267.8 105.1 267.8 104.6 270.3 104.5 271.5 104.9 271.6 105.2 271.7 107 269.7 108 269 108.4 269.4 108.7 269.9 107.3 272.3 106.7 273.5 106.8 273.9 106.9 274.4 108.9 273.4 109.8 273.5 109.8 274.3 109.8 275 107.9 276.6 107 277.5 106.8 278.1 106.7 278.6 108.3 279.1 108.7 279.9 108.4 280.8 108 281.6 106.2 281.8 105.2 282.1 104.9 282.7Z" fill="#fff" stroke-width="1.2"/>
<ellipse rx="4.6" ry="8" transform="translate(100.7 279.6) rotate(30)"/>
<path d="M97.3 285.4 96.3 284.2 95.9 282.3 96.3 280 97.3 277.6 98.9 275.5 100.7 274 102.6 273.4 104.1 273.7 109.5 276.8 110.5 278 110.9 279.9 110.5 282.2 109.5 284.6 107.9 286.7 106.1 288.2 104.3 288.8 102.7 288.5Z" fill="#fff"/>
<ellipse rx="3.9" ry="6.8" transform="translate(106.1 282.7) rotate(30)" fill="#fff"/>
<path d="M108.1 276 109.4 277.1 109.9 279 109.5 281.5 108.5 284 106.8 286.2 104.8 287.7 102.9 288.3 101.4 287.7" stroke-width="0.9"/>
<path d="M103.4 287.2 104.7 287.5 106.1 287 107.5 285.8 108.7 284.2 109.6 282.3 109.8 280.5 109.6 279 108.7 278.1 111.5 279.7 112.3 280.6 112.6 282.1 112.3 283.9 111.5 285.8 110.3 287.4 108.9 288.6 107.4 289.1 106.2 288.8Z" fill="#fff" stroke-width="1"/>
<ellipse rx="3.1" ry="5.3" transform="translate(108.9 284.2) rotate(30)" fill="#fff" stroke-width="1"/>
<ellipse rx="0.5" ry="0.9" transform="translate(104.6 287.2) rotate(30)" stroke-width="1.2"/>
<path d="M106.3 288.3 107.4 288.5 108.7 288.1 110 287 111.1 285.5 111.8 283.8 112.1 282.2 111.8 280.8 111.1 280 127.1 289.2 127.9 290.1 128.1 291.4 127.9 293.1 127.1 294.8 126 296.3 124.7 297.3 123.4 297.8 122.3 297.6Z" fill="#666" stroke-width="1.2"/>
<ellipse rx="2.8" ry="4.8" transform="translate(124.7 293.4) rotate(30)" fill="#666" stroke-width="1.2"/>
<path d="M111.3 280 112.4 280.7 112.8 282.1 112.6 284 111.8 285.9 110.5 287.6 109 288.7 107.5 289.1 106.4 288.5M113.1 281 114.1 281.7 114.6 283.1 114.4 285 113.6 287 112.3 288.7 110.8 289.8 109.3 290.1 108.2 289.5M114.9 282 115.9 282.7 116.4 284.2 116.2 286 115.4 288 114.1 289.7 112.5 290.8 111.1 291.1 110 290.6M116.7 283.1 117.7 283.8 118.1 285.2 117.9 287.1 117.1 289 115.8 290.7 114.3 291.8 112.9 292.1 111.7 291.6M118.4 284.1 119.5 284.8 119.9 286.2 119.7 288.1 118.9 290 117.6 291.7 116.1 292.8 114.6 293.2 113.5 292.6M120.2 285.1 121.2 285.8 121.7 287.2 121.5 289.1 120.7 291.1 119.4 292.8 117.9 293.9 116.4 294.2 115.3 293.6M122 286.1 123 286.8 123.5 288.3 123.3 290.1 122.5 292.1 121.2 293.8 119.6 294.9 118.2 295.2 117.1 294.7M123.8 287.2 124.8 287.9 125.3 289.3 125.1 291.2 124.2 293.1 122.9 294.8 121.4 295.9 120 296.2 118.8 295.7M125.5 288.2 126.6 288.9 127 290.3 126.8 292.2 126 294.1 124.7 295.8 123.2 296.9 121.7 297.3 120.6 296.7" stroke-width="1.5" stroke="#000"/>
<ellipse rx="2.8" ry="4.8" transform="translate(124.7 293.4) rotate(30)" fill="#fff" stroke-width="1.2"/>
<ellipse rx="1.4" ry="2.4" transform="translate(124.7 293.4) rotate(30)" stroke-width="0.9"/>
<ellipse rx="0.5" ry="0.9" transform="translate(124.7 293.4) rotate(30)" stroke-width="0.8"/>
<ellipse rx="5.5" ry="9.6" transform="translate(152 309.6) rotate(30)" fill="#fff" stroke-width="2.2"/>
<ellipse rx="4.4" ry="7.6" transform="translate(152.7 310) rotate(30)" stroke-width="0.8"/>
<path d="M154.5 311 166.4 316.8" stroke-width="0.9"/>
<path d="M158.1 291.8 157.5 291.1 157.2 289.9 157.5 288.5 158.1 287 159.1 285.7 160.2 284.8 161.3 284.4 162.3 284.6 164.4 285.8 165 286.5 165.2 287.7 165 289.1 164.4 290.6 163.4 291.9 162.3 292.8 161.1 293.2 160.2 293Z" fill="#fff" stroke-width="1.2"/>
<ellipse rx="2.4" ry="4.2" transform="translate(162.3 289.4) rotate(30)" fill="#fff" stroke-width="1.2"/>
<ellipse rx="1.2" ry="2.1" transform="translate(162.3 289.4) rotate(30)" stroke-width="1.1"/>
</g>
<g id="i5">
<path d="M79.4 352.7 78.2 351.5 77.5 349.5 77.5 347 78.2 344.3 79.4 341.6 81.1 339.2 83.1 337.3 85.3 336 87.3 335.6 89 336.1 90.7 337.1 92 338.3 92.6 340.3 92.6 342.8 92 345.5 90.7 348.2 89 350.6 87 352.5 84.9 353.8 82.9 354.2 81.1 353.7Z" fill="#fff" stroke-width="1.5"/>
<ellipse rx="5.5" ry="9.6" transform="translate(85.9 345.4) rotate(30)" fill="#fff" stroke-width="1.5"/>
<path d="M82 352.2 80.8 350.8 80.4 348.6 80.8 345.9 82 343.1 83.8 340.7 85.9 339 88 338.3 89.8 338.6 93.3 340.6 94.5 342 94.9 344.2 94.5 346.9 93.3 349.7 91.5 352.1 89.4 353.8 87.3 354.5 85.5 354.2Z" fill="#fff" stroke-width="1.4"/>
<ellipse rx="4.5" ry="7.8" transform="translate(89.4 347.4) rotate(30)" fill="#fff" stroke-width="1.4"/>
<ellipse rx="3.1" ry="5.4" transform="translate(89.4 347.4) rotate(30)" stroke-width="1.3"/>
<path d="M91.1 342.2 91.9 343.4 92 345.2 91.4 347.2 90.3 349.2 88.8 350.7 87.2 351.5 85.7 351.5" stroke-width="0.9"/>
<path d="M195.8 426.9 194.5 425.9 193.5 424.4 192.9 422.5 192.6 420.3 192.7 417.9 193.1 415.4 194 412.8 195.1 410.2 196.6 407.7 198.2 405.4 200.1 403.3 202.1 401.7 204.1 400.4 206.1 399.5 208.1 399.2 209.8 399.3 211.4 399.9 214 401.4 215.3 402.4 216.3 403.9 216.9 405.8 217.2 408 217.1 410.4 216.7 412.9 215.8 415.5 214.7 418.1 213.2 420.6 211.6 422.9 209.7 425 207.7 426.6 205.7 427.9 203.7 428.8 201.7 429.1 200 429 198.4 428.4Z" fill="#fff" stroke-width="1.1"/>
<ellipse rx="9" ry="15.6" transform="translate(206.2 414.9) rotate(30)" fill="#fff" stroke-width="1.1"/>
<path d="M199.1 427.2 197.8 426.1 196.8 424.5 196.3 422.4 196.2 420.1 196.5 417.5 197.3 414.8 198.4 412.1 199.9 409.5 201.6 407.2 203.6 405.2 205.7 403.6 207.8 402.5 209.8 402 211.7 402 213.3 402.6 216.4 404.4 217.7 405.5 218.7 407.1 219.2 409.2 219.3 411.5 219 414.1 218.3 416.8 217.1 419.5 215.6 422.1 213.9 424.4 211.9 426.4 209.8 428 207.7 429.1 205.7 429.6 203.8 429.6 202.2 429Z" fill="#fff" stroke-width="1.1"/>
<ellipse rx="8.2" ry="14.2" transform="translate(209.3 416.7) rotate(30)" fill="#fff" stroke-width="1.1"/>
<ellipse rx="4.3" ry="7.4" transform="translate(209.5 416.7) rotate(30)" stroke-width="1.1"/>
<path d="M212.7 410.6 213.2 412.7 212.9 415.3 211.7 418 209.9 420.4 207.8 422 205.8 422.7" stroke-width="0.9"/>
<path d="M206.6 418.6 211.8 413.4" stroke-width="0.9"/>
</g>
<g id="hs">
<path d="M156.2 357.3 199.5 383.6 266.4 345.4 223.1 319.1Z" fill="#fff"/>
<ellipse cx="172.9" cy="359.6" rx="4.6" ry="2.1" transform="rotate(14 172.9 359.6)" stroke-width="1.2"/>
<ellipse cx="197.8" cy="374" rx="4.6" ry="2.1" transform="rotate(14 197.8 374)" stroke-width="1.2"/>
<ellipse cx="186.1" cy="366.2" rx="3.1" ry="2.1" fill="#aaa" stroke="#777"/>
<ellipse cx="222.6" cy="320.9" rx="3.6" ry="1.7" transform="rotate(-12 222.6 320.9)" stroke-width="1.5"/>
<path d="M156.2 357.3 199.5 383.6 200.1 386.4 156.5 359.9Z" fill="#fff" stroke-width="1.3"/>
<path d="M156.2 358.6 199.5 385" stroke-width="1.2"/>
<path d="M159.4 320.6 159.7 317.6 160.7 314.4 162.2 311.2 164.2 308.3 166.5 305.9 168.9 304.1 207.9 281.6 210.4 280.6 212.7 280.3 214.6 280.9 216.5 282 218.1 283.4 219 285.5 219.3 288.2 219.3 322.7 161.3 356.2 159.4 355.1Z" fill="#fff"/>
<path d="M161.3 356.2 219.3 322.7 219.3 288.2 219 285.5 218 283.4 216.5 282 214.6 281.4 212.3 281.7 209.8 282.7 170.8 305.2 168.4 307 166.1 309.4 164.1 312.3 162.6 315.5 161.6 318.7 161.3 321.7Z" fill="#fff"/>
<path d="M161.6 356.1 218.9 321.1" stroke-width="0.9"/>
<ellipse rx="1.5" ry="2.6" transform="translate(209.3 292.6) rotate(30)" fill="#fff" stroke-width="1.2"/>
<path d="M209.8 290.1 210 290.8 209.9 291.7 209.5 292.7 208.8 293.5 208.1 294.1 207.4 294.3" stroke-width="0.8"/>
<ellipse rx="1.5" ry="2.6" transform="translate(168.3 314.9) rotate(30)" fill="#fff" stroke-width="1.2"/>
<path d="M168.8 312.4 169 313.1 168.9 314 168.5 315 167.8 315.8 167.1 316.4 166.4 316.6" stroke-width="0.8"/>
<ellipse rx="4.6" ry="8" transform="translate(177.3 323.9) rotate(30)" fill="#fff" stroke-width="1.2"/>
<path d="M181.3 317.5 181.8 319.8 181.4 322.6 180.2 325.5 178.2 328.1 176 329.9 173.8 330.5" stroke-width="0.8"/>
<path d="M168.3 314.9 207 337.2" stroke-width="0.9"/>
<path d="M178.5 324.4 205 339.8" stroke-width="0.9"/>
<path d="M211.7 294.1 243 312.4" stroke-width="0.9"/>
<path d="M203 346.6 203.3 343.6 204.3 340.4 205.8 337.2 207.8 334.3 210.1 331.9 212.5 330.1 251.5 307.6 254 306.6 256.3 306.3 258.2 306.9 260.1 308 261.6 309.4 262.6 311.5 262.9 314.2 262.9 348.7 204.9 382.2 203 381.1Z" fill="#fff"/>
<path d="M204.9 382.2 262.9 348.7 262.9 314.2 262.6 311.5 261.6 309.4 260.1 308 258.2 307.4 255.9 307.7 253.4 308.7 214.4 331.2 212 333 209.7 335.4 207.7 338.3 206.2 341.5 205.2 344.7 204.9 347.7Z" fill="#fff"/>
<path d="M262.6 341.2 266.5 343.8 266.4 345.6"/>
<path d="M263.9 343.8 264.1 346.5"/>
<path d="M199.7 384.5 202.3 386.4 204.9 383.4"/>
<path d="M203.2 386.6 267 349.6 266.4 345.6" stroke-width="0.9"/>
<ellipse rx="1.5" ry="2.6" transform="translate(252.6 317.7) rotate(30)" fill="#fff" stroke-width="1.2"/>
<path d="M253.1 315.2 253.3 315.9 253.2 316.8 252.8 317.8 252.1 318.6 251.4 319.2 250.7 319.4" stroke-width="0.8"/>
<ellipse rx="1.5" ry="2.6" transform="translate(210.9 339.3) rotate(30)" fill="#fff" stroke-width="1.2"/>
<path d="M211.4 336.8 211.6 337.5 211.5 338.4 211.1 339.4 210.4 340.2 209.7 340.8 209 341" stroke-width="0.8"/>
<ellipse rx="7.7" ry="13.4" transform="translate(220.4 348.2) rotate(30)" fill="#fff" stroke-width="1.2"/>
<path d="M227.4 337.6 228.2 339.5 228.5 341.8 228.3 344.4 227.6 347.1 226.4 349.9 224.9 352.6 223.1 354.9 221 356.9 218.9 358.4 216.7 359.3 214.7 359.6" stroke-width="0.9"/>
<ellipse cx="215.3" cy="355.6" rx="4.0" ry="1.7" transform="rotate(-25 215.3 355.6)" stroke-width="1.2"/>
<path d="M214.5 348.5 226.2 341.6"/>
<path d="M216.5 351.5 228.3 344.8"/>
<path d="M219.5 345.6 240.4 357.3" stroke-width="0.9"/>
<path d="M221 348.6 262 372.3" stroke-width="0.9"/>
<path d="M240.9 351.6 240.1 350.6 239.8 349.1 240.1 347.2 240.9 345.3 242.1 343.7 243.6 342.5 245.1 342 246.3 342.2 251.9 345.5 252.8 346.4 253 347.9 252.8 349.8 251.9 351.7 250.7 353.4 249.2 354.6 247.8 355.1 246.5 354.8Z" fill="#fff" stroke-width="1.5"/>
<ellipse rx="3.1" ry="5.4" transform="translate(249.2 350.1) rotate(30)" fill="#fff" stroke-width="1.5"/>
<path d="M247.5 353.2 246.9 352.6 246.8 351.6 246.9 350.3 247.5 349.1 248.3 347.9 249.3 347.2 250.3 346.8 251.1 347 254 348.7 254.6 349.3 254.8 350.3 254.6 351.6 254 352.8 253.2 354 252.2 354.7 251.3 355.1 250.4 354.9Z" fill="#fff" stroke-width="1.4"/>
<ellipse rx="2.1" ry="3.6" transform="translate(252.2 351.8) rotate(30)" fill="#fff" stroke-width="1.4"/>
<ellipse rx="1" ry="1.8" transform="translate(252.4 351.9) rotate(30)" stroke-width="1"/>
</g>
<g id="i6b">
<path d="M378.4 262.8 377.9 262.2 377.7 261.1 377.9 259.8 378.4 258.5 379.3 257.4 380.3 256.6 381.3 256.2 382.2 256.4 431.1 284.7 431.7 285.3 431.9 286.4 431.7 287.6 431.1 288.9 430.3 290.1 429.3 290.9 428.3 291.2 427.4 291.1Z" fill="#fff"/>
<path d="M395.6 264.2 396.3 265.2 396.2 266.7 395.6 268.4 394.4 269.9 393.1 270.6 391.9 270.6" stroke-width="0.8"/>
<path d="M397 265 397.7 266 397.6 267.5 397 269.2 395.8 270.7 394.5 271.4 393.3 271.4" stroke-width="0.8"/>
<path d="M425.8 293.9 424.7 292.7 424.3 290.7 424.7 288.3 425.8 285.9 427.4 283.7 429.3 282.2 431.2 281.5 432.8 281.8 435.7 283.5 436.8 284.7 437.2 286.7 436.8 289.1 435.7 291.6 434.1 293.8 432.2 295.3 430.3 295.9 428.7 295.6Z" fill="#fff"/>
<ellipse rx="4" ry="7" transform="translate(432.2 289.6) rotate(30)" fill="#fff"/>
<ellipse rx="3.1" ry="5.4" transform="translate(432.6 288.9) rotate(30)" stroke-width="0.8"/>
</g>
<g id="i8">
<path d="M288.8 354.3 288.2 353.7 288 352.6 288.2 351.3 288.7 350 289.6 348.9 290.6 348.1 291.6 347.7 292.5 347.9 294.7 349.2 295.3 349.8 295.5 350.9 295.3 352.2 294.7 353.5 293.9 354.6 292.9 355.4 291.9 355.8 291 355.6Z" fill="#fff" stroke-width="1.3"/>
<ellipse rx="2.1" ry="3.7" transform="translate(292.9 352.4) rotate(30)" fill="#fff" stroke-width="1.3"/>
<ellipse rx="1.3" ry="2.2" transform="translate(292.9 352.4) rotate(30)" stroke-width="1"/>
<path d="M292.4 354.9 292 354.5 291.9 353.8 292 353 292.4 352.1 293 351.4 293.6 350.8 294.2 350.6 294.8 350.7 303.1 355.5 303.5 355.9 303.6 356.6 303.5 357.4 303.1 358.3 302.6 359 301.9 359.6 301.3 359.8 300.7 359.7Z" fill="#fff" stroke-width="1.1"/>
<ellipse rx="1.4" ry="2.4" transform="translate(301.9 357.6) rotate(30)" fill="#fff" stroke-width="1.1"/>
<path d="M296.9 351.9 297.4 352.5 297.4 353.5 297 354.7 296.2 355.7 295.2 356.2 294.5 356.1M298.3 352.8 298.8 353.4 298.9 354.4 298.4 355.6 297.6 356.6 296.7 357.1 295.9 356.9M299.8 353.6 300.3 354.2 300.4 355.2 299.9 356.4 299.1 357.4 298.2 357.9 297.4 357.8M301.3 354.5 301.8 355.1 301.8 356.1 301.4 357.3 300.6 358.3 299.6 358.8 298.9 358.6M302.7 355.3 303.3 355.9 303.3 356.9 302.9 358.1 302 359.1 301.1 359.6 300.4 359.5" stroke-width="1.3"/>
<path d="M342.9 310.3 333.4 323.9" stroke-width="1.9" stroke="#000"/>
<ellipse cx="335.3" cy="327.4" rx="5.3" ry="4.1" transform="rotate(28 335.3 327.4)" fill="#000" stroke="#000" stroke-width="1"/>
<path d="M338.6 326.2C340.4 327 340.6 329.6 339.4 331.4" stroke-width="1.2"/>
<path d="M333.0 330.6C332.8 333.4 330.6 334.4 328.8 332.0" stroke-width="1.4" stroke="#000"/>
<path d="M339.6 329.4 343.6 331.6" stroke-width="0.9"/>
<path d="M349.7 327.3 354.8 327.9 357 330.4 357.6 333.5 356.5 337.2 353.6 340.3 349.1 343.2 349.1 346.6 340 351.7 334.9 345.4 342.3 340.9 342.9 334.1 344.6 331.8 346.3 329.9Z" fill="#fff" stroke-width="1.1"/>
<path d="M346.5 330.4 346 335.8 347.2 344.9" stroke-width="0.9"/>
<path d="M344 333.3 343.8 340.1" stroke-width="0.9"/>
<path d="M342.3 340.9 347.2 344.9" stroke-width="0.9"/>
<path d="M336.3 348 344 343.5" stroke-width="0.9"/>
<path d="M349.1 329 353.6 329.3 355.6 331.8 355.9 334.1 354.8 337.2 352.2 340.1 348.5 342.4" stroke-width="0.8"/>
<ellipse rx="2.1" ry="3.7" transform="translate(350.8 335.2) rotate(30)" stroke-width="1.2"/>
<ellipse rx="1.1" ry="1.9" transform="translate(350.8 335.2) rotate(30)" stroke-width="0.9"/>
<path d="M353.4 336.8 361.4 341.4" stroke-width="0.9"/>
<ellipse rx="2.7" ry="4.5" transform="translate(364.4 343.2) rotate(24)" stroke-width="1.8"/>
</g>
<g id="i9">
<path d="M348.9 373.2 349.2 372.8 349.4 372.2 349.2 371.4 348.9 370.7 348.4 370 347.8 369.5 347.2 369.3 346.7 369.4 335.3 376 334.9 376.4 334.8 377 334.9 377.8 335.3 378.5 335.8 379.2 336.4 379.7 337 379.9 337.5 379.8Z" fill="#fff"/>
<ellipse rx="1.3" ry="2.2" transform="translate(336.4 377.9) rotate(-30)" fill="#fff"/>
<path d="M291.9 407.9 290.5 406.8 289.5 405.2 288.9 403.2 288.7 400.9 288.9 398.3 289.5 395.6 290.5 392.8 291.9 390.2 293.5 387.6 295.4 385.4 297.5 383.5 299.6 382 301.7 381 303.8 380.6 305.6 380.7 307.3 381.3 308.3 381.9 309.7 383 310.7 384.6 311.3 386.6 311.5 388.9 311.3 391.5 310.7 394.2 309.7 397 308.3 399.6 306.7 402.2 304.8 404.4 302.8 406.3 300.6 407.8 298.5 408.8 296.5 409.2 294.6 409.1 292.9 408.5Z" fill="#fff"/>
<ellipse rx="8.9" ry="15.4" transform="translate(300.6 395.2) rotate(30)" fill="#fff"/>
<ellipse rx="6.9" ry="12" transform="translate(302.6 396.4) rotate(30)"/>
<ellipse rx="0.9" ry="1.5" transform="translate(297.8 400.5) rotate(30)" stroke-width="1.1"/>
<path d="M299.9 402.6 298.9 401.4 298.5 399.4 298.9 397 299.9 394.6 301.5 392.5 303.4 391 305.3 390.3 306.8 390.6 310.8 392.9 311.9 394.1 312.3 396.1 311.9 398.5 310.8 400.9 309.3 403 307.4 404.5 305.5 405.2 303.9 404.9Z" fill="#fff" stroke-width="1.1"/>
<ellipse rx="4" ry="6.9" transform="translate(307.4 398.9) rotate(30)" fill="#fff" stroke-width="1.1"/>
<ellipse rx="2.6" ry="4.5" transform="translate(307.4 398.9) rotate(30)" stroke-width="1.2"/>
<path d="M309.2 395.4 309.3 396.6 309 398 308.3 399.4 307.4 400.7 306.4 401.7 305.3 402.2" stroke-width="0.9"/>
<path d="M307.4 398.9 318.6 405.4" stroke-width="0.9"/>
<path d="M311.8 391.5 313.6 390.5" stroke-width="0.9"/>
<path d="M318.8 423.6 317.4 422.5 316.4 420.9 315.8 418.9 315.6 416.6 315.8 414 316.4 411.3 317.4 408.5 318.8 405.9 320.4 403.3 322.3 401.1 324.3 399.2 326.5 397.7 328.6 396.7 330.6 396.3 332.5 396.4 334.2 397 335.2 397.6 336.6 398.7 337.6 400.3 338.2 402.3 338.4 404.6 338.2 407.2 337.6 409.9 336.6 412.7 335.2 415.3 333.6 417.9 331.7 420.1 329.6 422 327.5 423.5 325.4 424.5 323.3 424.9 321.5 424.8 319.8 424.2Z" fill="#fff"/>
<ellipse rx="8.9" ry="15.4" transform="translate(327.5 410.9) rotate(30)" fill="#fff"/>
<ellipse rx="5.1" ry="8.8" transform="translate(327.5 410.9) rotate(30)"/>
<path d="M332.2 404.6 332.4 407 331.9 409.8 330.6 412.7 328.8 415.2 326.6 417.1 324.4 418.1" stroke-width="0.9"/>
<path d="M327.5 410.9 344.8 420.9" stroke-width="0.9"/>
<path d="M360.8 429.8 362.2 431.8 361.4 432.5 360.5 433.1 359.7 433.7 358.9 434.2 358.1 434.5 357.4 434.8 356.7 435.1 356.7 438.3 355.9 438.5 355.1 438.7 354.4 438.7 353.6 438.7 353 438.6 352.4 438.5 351.8 438.2 350.6 441.9 349.9 441.5 349.3 441.2 348.8 440.7 348.4 440.2 348 439.7 347.6 439.1 347.4 438.5 345.1 441.7 344.8 440.9 344.6 440.1 344.4 439.3 344.3 438.4 344.3 437.6 344.3 436.7 344.4 435.8 341.6 437.9 341.7 436.8 341.9 435.7 342.1 434.7 342.4 433.7 342.7 432.7 343.1 431.7 343.5 430.8 340.8 431.2 341.3 430.1 341.9 429 342.4 428 343 427.1 343.6 426.2 344.3 425.3 344.9 424.5 343 423.3 343.8 422.4 344.6 421.6 345.3 420.8 346.1 420.1 346.9 419.5 347.6 419 348.4 418.6 347.6 415.9 348.5 415.4 349.3 415 350.1 414.7 350.9 414.4 351.7 414.3 352.4 414.2 353 414.2 353.6 410.7 354.4 410.7 355.1 410.9 355.8 411 356.4 411.3 356.9 411.6 357.4 412 357.8 412.5 359.6 408.9 360.1 409.5 360.5 410.1 360.9 410.8 361.2 411.4 361.4 412.2 361.6 412.9 361.7 413.7 364.3 411 364.4 411.9 364.4 412.9 364.3 413.9 364.3 414.8 364.1 415.8 363.9 416.8 363.7 417.7 366.5 416.4 366.1 417.5 365.8 418.6 365.4 419.7 364.9 420.7 364.4 421.7 363.9 422.6 363.4 423.5 365.7 423.9 365.1 424.9 364.4 425.9 363.7 426.8 363 427.7 362.3 428.4 361.6 429.1Z" fill="#fff" stroke-width="1.25"/>
<path d="M346.4 438.1 345.1 436.9 344.1 435.3 343.6 433.2 343.5 430.9 343.8 428.2 344.6 425.5 345.7 422.8 347.2 420.2 349 417.8 351 415.8 353.1 414.2 355.2 413.1 357.3 412.5 359.2 412.5 360.8 413.1 362.4 414 360.7 413.4 358.8 413.4 356.8 414 354.7 415.1 352.6 416.7 350.6 418.7 348.8 421.1 347.3 423.7 346.1 426.4 345.4 429.1 345 431.8 345.1 434.1 345.7 436.2 346.7 437.8 348 439Z" fill="#fff" stroke-width="0"/>
<path d="M362.4 430.7 363.8 432.7 362.9 433.4 362.1 434 361.3 434.6 360.5 435.1 359.7 435.4 358.9 435.7 358.2 436 358.3 439.2 357.5 439.4 356.7 439.6 355.9 439.6 355.2 439.6 354.5 439.5 353.9 439.4 353.4 439.1 352.1 442.8 351.5 442.4 350.9 442.1 350.4 441.6 349.9 441.1 349.5 440.6 349.2 440 348.9 439.4 346.6 442.6 346.3 441.8 346.1 441 346 440.2 345.9 439.3 345.8 438.5 345.8 437.6 345.9 436.7 343.1 438.8 343.3 437.7 343.4 436.6 343.7 435.6 343.9 434.6 344.3 433.6 344.6 432.6 345 431.7 342.4 432.1 342.9 431 343.4 429.9 344 428.9 344.6 428 345.2 427.1 345.8 426.2 346.5 425.4 344.6 424.2 345.3 423.3 346.1 422.5 346.9 421.7 347.7 421 348.4 420.4 349.2 419.9 349.9 419.5 349.2 416.8 350.1 416.3 350.9 415.9 351.7 415.6 352.5 415.3 353.2 415.2 353.9 415.1 354.6 415.1 355.2 411.6 356 411.6 356.7 411.8 357.3 411.9 357.9 412.2 358.5 412.5 358.9 412.9 359.4 413.4 361.2 409.8 361.7 410.4 362.1 411 362.4 411.7 362.7 412.3 362.9 413.1 363.1 413.8 363.2 414.6 365.8 411.9 365.9 412.8 365.9 413.8 365.9 414.8 365.8 415.7 365.7 416.7 365.5 417.7 365.2 418.6 368 417.3 367.7 418.4 367.3 419.5 366.9 420.6 366.5 421.6 366 422.6 365.5 423.5 364.9 424.4 367.3 424.8 366.6 425.8 365.9 426.8 365.2 427.7 364.5 428.6 363.8 429.3 363.1 430Z" fill="#fff" stroke-width="1.25"/>
<ellipse rx="5" ry="8.6" transform="translate(355.2 426.5) rotate(30)"/>
<path d="M359.5 420.2 359.8 422.5 359.2 425.3 358 428.1 356.2 430.6 354.1 432.4 351.9 433.3" stroke-width="0.9"/>
<path d="M355.2 426.5 374.3 437.5" stroke-width="0.9"/>
<path d="M373.5 454.9 372.1 453.8 371.1 452.2 370.5 450.2 370.3 447.9 370.5 445.3 371.1 442.6 372.1 439.8 373.5 437.2 375.1 434.6 377 432.4 379 430.5 381.2 429 383.3 428 385.3 427.6 387.2 427.7 388.9 428.3 389.9 428.9 391.3 430 392.3 431.6 392.9 433.6 393.1 435.9 392.9 438.5 392.3 441.2 391.3 444 389.9 446.6 388.3 449.2 386.4 451.4 384.3 453.3 382.2 454.8 380.1 455.8 378 456.2 376.2 456.1 374.5 455.5Z" fill="#fff"/>
<ellipse rx="8.9" ry="15.4" transform="translate(382.2 442.2) rotate(30)" fill="#fff"/>
<ellipse rx="5.1" ry="8.8" transform="translate(382.2 442.2) rotate(30)"/>
<path d="M386.9 435.9 387.1 438.3 386.6 441.1 385.3 444 383.5 446.5 381.3 448.4 379.1 449.4" stroke-width="0.9"/>
<path d="M382.2 442.2 408.2 457.2" stroke-width="0.9"/>
<path d="M260.1 426.2 259.3 425.3 259.1 423.9 259.3 422.2 260.1 420.5 261.2 418.9 262.6 417.8 264 417.3 265.1 417.6 307.5 442.1 308.3 443 308.6 444.4 308.3 446.1 307.5 447.8 306.4 449.4 305 450.5 303.7 451 302.5 450.7Z" fill="#fff"/>
<ellipse rx="2.9" ry="5" transform="translate(305 446.4) rotate(30)" fill="#fff"/>
<ellipse rx="1.9" ry="3.3" transform="translate(305 446.4) rotate(30)" stroke-width="0.9"/>
<path d="M320.4 459.3 319.9 458.8 319.7 458 319.9 457 320.3 456 321 455.1 321.8 454.4 322.6 454.2 323.2 454.3 370.1 481.4 370.6 481.9 370.7 482.7 370.6 483.7 370.1 484.7 369.5 485.6 368.7 486.2 367.9 486.5 367.2 486.4Z" fill="#fff"/>
<path d="M331.5 459.1 332 459.8 332 461 331.5 462.4 330.6 463.5 329.5 464.1 328.6 464.1" stroke-width="0.8"/>
<path d="M332.9 459.9 333.4 460.6 333.4 461.8 332.9 463.2 332 464.3 330.9 464.9 330 464.9" stroke-width="0.8"/>
<path d="M366.2 488.2 365.4 487.3 365.2 485.9 365.4 484.2 366.2 482.4 367.3 480.9 368.7 479.8 370 479.3 371.2 479.5 374 481.1 374.7 482 375 483.4 374.7 485.2 374 486.9 372.8 488.5 371.5 489.6 370.1 490 369 489.8Z" fill="#fff"/>
<ellipse rx="2.9" ry="5" transform="translate(371.5 485.5) rotate(30)" fill="#fff"/>
<ellipse rx="2.1" ry="3.6" transform="translate(372.2 484.2) rotate(30)" stroke-width="0.8"/>
</g>
<g id="i7">
<path d="M420 435.7 420.5 433.8 421.1 431.8 421.8 429.9 422.5 428 423.3 426 424.2 424.1 425.1 422.2 426.1 420.3 427.1 418.5 428.2 416.6 429.3 414.8 430.5 413.1 431.8 411.4 433 409.7 434.4 408.1 435.7 406.6 437.1 405.1 438.5 403.7 439.9 402.4 441.4 401.1 442.9 399.9 444.3 398.8 445.8 397.7 447.3 396.8 448.8 395.9 450.4 395.1 451.8 394.5 453.3 393.9 454.8 393.4 456.3 393 457.7 392.7 459.1 392.4 460.5 392.3 461.8 392.3 463.1 392.4 464.4 392.6 465.7 392.9 466.8 393.2 468 393.7 469.1 394.3 477.3 399 478.5 399.8 479.7 400.8 480.8 401.8 481.7 403 482.6 404.3 483.4 405.8 484.1 407.3 484.7 408.9 485.2 410.7 485.5 412.5 485.8 414.4 486 416.4 486 418.4 485.9 420.6 485.8 422.7 485.5 425 485.1 427.2 484.6 429.5 484 431.8 483.3 434.2 482.5 436.5 481.6 438.8 480.6 441.1 479.5 443.4 478.3 445.7 477.1 447.9 475.7 450.1 474.3 452.2 472.9 454.3 471.3 456.3 469.8 458.2 468.1 460 466.4 461.8 464.7 463.4 463 465 461.2 466.4 459.4 467.7 457.6 468.9 455.8 470 454 470.9 452.2 471.7 450.4 472.4 448.7 472.9 446.9 473.3 445.2 473.6 443.6 473.7 442 473.7 440.4 473.5 438.9 473.2 437.5 472.8 436.1 472.2 434.8 471.5 433.6 470.6 432.5 469.7 431.5 468.6 430.5 467.3 429.7 466 428.9 464.5 428.3 462.9 427.7 461.3 427.3 459.5 427 457.6 426.7 455.7 426.6 453.7 426.6 451.6 426.7 449.5 426.9 447.3 427.3 445 427.7 442.7 428.2 440.4Z" fill="#fff"/>
<path d="M428.2 440.4 428.7 438.5 429.3 436.6 430 434.6 430.7 432.7 431.5 430.8 432.4 428.8 433.3 426.9 434.3 425.1 435.3 423.2 436.4 421.4 437.6 419.6 438.8 417.9 440 416.2 441.3 414.5 442.6 412.9 443.9 411.4 445.3 409.9 446.7 408.5 448.2 407.1 449.6 405.8 451.1 404.6 452.6 403.5 454.1 402.5 455.6 401.5 457.1 400.7 458.6 399.9 460.1 399.2 461.6 398.6 463 398.1 464.5 397.7 465.9 397.4 467.3 397.2 468.7 397.1 470.1 397.1 471.4 397.1 472.6 397.3 473.9 397.6 475.1 398 476.2 398.5 477.3 399"/>
<path d="M428.2 435.7 428.8 434 429.4 432.3 430.1 430.6 430.8 428.9 431.6 427.3 432.4 425.6 433.3 423.9 434.2 422.3 435.2 420.7 436.2 419.1 437.2 417.6 438.3 416.1 439.4 414.6 440.6 413.2 441.7 411.8 442.9 410.4 444.1 409.2 445.4 407.9 446.6 406.7 447.9 405.6 449.2 404.5 450.5 403.5 451.8 402.5 453.1 401.6 454.5 400.8 455.8 400 457.1 399.3 458.4 398.7 459.7 398.2 461 397.7 462.3 397.3 463.6 396.9 464.8 396.7 466.1 396.5 467.3 396.4 468.5 396.4 469.7 396.4 470.8 396.5 471.9 396.7 473 397" stroke-width="0.8"/>
<path d="M409.5 461.4 409.8 459.3 410.4 457.1 411.4 455 412.8 453 414.4 451.4 416 450.1 457.3 426.4 458.9 425.6 460.5 425.5 461.9 425.9 473.1 432.4 474.1 433.4 474.8 434.8 475 436.6 475 460.6 474.8 463.1 474 465.7 472.7 468.3 471.1 470.6 469.2 472.6 467.2 474.1 427.3 497.1 425.6 497.9 424.1 498 422.7 497.6 411.4 491.1 410.4 490.1 409.8 488.7 409.5 486.9Z" fill="#fff"/>
<path d="M416.8 491.1 417 492.9 417.7 494.3 418.7 495.3 420.1 495.7 421.6 495.6 423.3 494.8 463.2 471.8 465.3 470.3 467.1 468.3 468.7 466 470 463.4 470.8 460.8 471 458.3 471 434.3 470.8 432.5 470.2 431.1 469.1 430.1 467.8 429.7 466.2 429.8 464.5 430.5 423.3 454.3 421.6 455.6 420.1 457.2 418.7 459.2 417.7 461.3 417 463.5 416.8 465.6Z"/>
<path d="M420.8 493.4 421 495.2 421.7 496.6 422.7 497.6 424 498 425.6 497.9 427.3 497.1 467.2 474.1 469.2 472.6 471.1 470.6 472.7 468.3 474 465.7 474.7 463.1 475 460.6 475 436.6 474.8 434.8 474.1 433.4 473.1 432.4 471.8 432 470.2 432.1 468.5 432.8 427.3 456.6 425.6 457.9 424 459.5 422.7 461.5 421.7 463.6 421 465.8 420.8 467.9Z" fill="#fff"/>
<path d="M409.6 464.3 413.9 466.4"/>
<path d="M409.6 488.6 413.9 490.9"/>
<path d="M413.9 466.4 413.9 490.9"/>
<ellipse rx="8.3" ry="14.3" transform="translate(433.9 471.9) rotate(30)" fill="#fff" stroke-width="1.1"/>
<path d="M441 460 441.8 461.7 442.2 463.7 442.3 466 441.9 468.5 441.2 471.2 440 473.8 438.6 476.3 436.9 478.5 435 480.5 433 482.1 431 483.2 429 483.8 427.1 483.9" stroke-width="0.9"/>
<path d="M440.7 461.2 441.1 463.4 441 466 440.5 468.8 439.5 471.6 438.2 474.3 436.4 476.9 434.5 479.1 432.4 481 430.2 482.3 428 483.1" stroke-width="0.8"/>
<ellipse rx="0.8" ry="1.4" transform="translate(456.7 471.1) rotate(30)" stroke-width="1"/>
<path d="M423.6 465.8 492 505.3" stroke-width="1"/>
<path d="M452.5 480.6 459.6 482.6 455.6 485" stroke-width="0.8"/>
<path d="M483.4 472.5 483.2 472.2 483.1 471.8 483.2 471.3 483.4 470.8 483.8 470.3 484.2 470 484.6 469.8 484.9 469.9 494.7 475.5 494.9 475.8 495 476.2 494.9 476.7 494.7 477.3 494.3 477.7 493.9 478 493.5 478.2 493.2 478.1Z" fill="#fff" stroke-width="0.9"/>
<ellipse rx="0.9" ry="1.5" transform="translate(493.9 476.8) rotate(30)" fill="#fff" stroke-width="0.9"/>
<path d="M492.5 479.3 492 478.7 491.9 477.9 492 476.8 492.5 475.7 493.2 474.7 494.1 474.1 494.9 473.8 495.6 473.9 497.4 474.9 497.8 475.5 498 476.3 497.8 477.4 497.4 478.5 496.6 479.5 495.8 480.1 495 480.4 494.2 480.3Z" fill="#fff" stroke-width="1.2"/>
<ellipse rx="1.8" ry="3.1" transform="translate(495.8 477.6) rotate(30)" fill="#fff" stroke-width="1.2"/>
<ellipse rx="1" ry="1.7" transform="translate(495.8 477.6) rotate(30)" stroke-width="1"/>
<path d="M439.1 501.7 438.8 501.4 438.7 501 438.8 500.5 439 500 439.4 499.5 439.8 499.2 440.2 499 440.6 499.1 450.5 504.8 450.7 505.1 450.8 505.5 450.7 506 450.5 506.6 450.1 507 449.7 507.3 449.3 507.5 449 507.4Z" fill="#fff" stroke-width="0.9"/>
<ellipse rx="0.9" ry="1.5" transform="translate(449.7 506.1) rotate(30)" fill="#fff" stroke-width="0.9"/>
<path d="M448.1 508.9 447.6 508.3 447.5 507.5 447.6 506.4 448.1 505.3 448.8 504.3 449.7 503.7 450.5 503.4 451.2 503.5 452.9 504.5 453.4 505.1 453.6 505.9 453.4 507 453 508.1 452.2 509.1 451.4 509.7 450.6 510 449.8 509.9Z" fill="#fff" stroke-width="1.2"/>
<ellipse rx="1.8" ry="3.1" transform="translate(451.4 507.2) rotate(30)" fill="#fff" stroke-width="1.2"/>
<ellipse rx="1" ry="1.7" transform="translate(451.4 507.2) rotate(30)" stroke-width="1"/>
</g>
<g id="i1">
<path d="M491.8 522.6 490.4 521.4 489.4 519.8 488.9 517.7 488.8 515.3 489.1 512.7 489.9 509.9 491 507.1 492.5 504.5 494.3 502.1 496.3 500.1 498.5 498.5 500.6 497.4 502.7 496.8 504.6 496.8 506.2 497.4 508.3 498.6 509.7 499.8 510.7 501.4 511.2 503.5 511.3 505.9 511 508.5 510.2 511.3 509 514.1 507.5 516.7 505.7 519.1 503.7 521.1 501.6 522.7 499.5 523.8 497.4 524.4 495.5 524.4 493.8 523.8Z" fill="#fff" stroke-width="1.1"/>
<ellipse rx="8.4" ry="14.5" transform="translate(501.1 511.2) rotate(30)" fill="#fff" stroke-width="1.1"/>
<ellipse rx="7.4" ry="12.9" transform="translate(501.1 511.2) rotate(30)" stroke-width="0.9"/>
<path d="M495.1 521.5 493.9 520.4 493 518.7 492.7 516.6 492.8 514.2 493.4 511.6 494.5 509 495.9 506.5 497.6 504.3 499.6 502.5 501.6 501.2 503.6 500.5 505.4 500.4 507 500.9 516.2 506.2 517.5 507.3 518.3 509 518.7 511.1 518.5 513.5 517.9 516.1 516.9 518.7 515.4 521.2 513.7 523.4 511.8 525.2 509.8 526.5 507.8 527.2 505.9 527.3 504.3 526.8Z" fill="#fff" stroke-width="1.1"/>
<ellipse rx="6.9" ry="11.9" transform="translate(510.3 516.5) rotate(30)" fill="#fff" stroke-width="1.1"/>
<path d="M506 523.9 504.7 522.6 504.2 520.6 504.4 518.1 505.3 515.3 506.8 512.8 508.7 510.6 510.8 509.2 512.8 508.7 514.6 509.1 518.5 511.3 519.7 512.6 520.2 514.6 520 517.2 519.1 519.9 517.6 522.5 515.7 524.6 513.6 526.1 511.6 526.6 509.9 526.2Z" fill="#fff" stroke-width="1.2"/>
<ellipse rx="5" ry="8.6" transform="translate(514.2 518.8) rotate(30)" fill="#fff" stroke-width="1.2"/>
<path d="M510.3 516.5 518 512 530.2 519 530.2 528 522.4 532.5 510.3 525.5Z" fill="#fff" stroke-width="1.1"/>
<path d="M522.4 532.5 530.2 528 530.2 519 522.4 523.5Z" fill="#fff" stroke-width="1.2"/>
<path d="M510.3 525.5 522.4 532.5" stroke-width="1"/>
<path d="M510.3 516.5 522.4 523.5" stroke-width="0.9"/>
<path d="M524 529.6 528.5 527.1 528.5 521.9 524 524.4Z" stroke-width="0.9"/>
<ellipse rx="1.2" ry="2.1" transform="translate(515.9 523.6) rotate(30)" stroke-width="1.3"/>
</g>
<g id="i2">
<path d="M610.6 507.9 609.4 506.7 608.5 505 608.1 502.8 608.2 500.3 608.9 497.7 610 495 611.4 492.4 613.2 490.1 615.2 488.2 617.3 486.9 619.4 486.1 621.3 486 622.9 486.5 636.8 494.5 638.1 495.7 639 497.4 639.3 499.6 639.2 502.1 638.6 504.7 637.5 507.4 636 510 634.2 512.3 632.2 514.2 630.1 515.5 628.1 516.3 626.2 516.4 624.5 515.9Z" fill="#fff"/>
<ellipse rx="7.1" ry="12.3" transform="translate(630.7 505.2) rotate(30)" fill="#fff"/>
<path d="M612.8 523.6 613.3 521.8 614.6 520.3 616.8 519 619.4 518.2 622.4 517.9 625.4 518.2 628 519 630.2 520.3 631.5 521.8 632 523.6 632 526 631.5 527.8 630.2 529.3 628 530.6 625.4 531.4 622.4 531.7 619.4 531.4 616.8 530.6 614.6 529.3 613.3 527.8 612.8 526Z" fill="#fff"/>
<ellipse rx="5.7" ry="9.6" transform="translate(622.4 526) rotate(90)" fill="#fff"/>
<ellipse rx="3.5" ry="5.6" transform="translate(621.6 522.4) rotate(90)"/>
<path d="M545.6 548.7 544.4 547.5 543.7 545.7 543.5 543.4 544 540.8 545 538.1 546.4 535.6 548.3 533.4 550.3 531.7 552.3 530.7 554.3 530.4 555.9 530.9 569.1 538.5 570.4 539.7 571.1 541.5 571.2 543.8 570.8 546.4 569.8 549.1 568.3 551.6 566.5 553.8 564.5 555.5 562.4 556.5 560.5 556.8 558.8 556.3Z" fill="#fff" stroke-width="1.1"/>
<ellipse rx="5.9" ry="10.3" transform="translate(564 547.4) rotate(30)" fill="#fff" stroke-width="1.1"/>
<ellipse rx="4.8" ry="8.3" transform="translate(564 547.4) rotate(30)" stroke-width="1.3"/>
<path d="M560 554.3 567.9 549.7 567.9 540.5 560 545.1Z" stroke-width="1.2"/>
<path d="M560.4 547.8 567.8 543.5" stroke-width="0.9"/>
<path d="M560.4 550 567.8 545.7" stroke-width="0.9"/>
<path d="M554.5 550.6 555.2 549.8 555.5 548.5 555.2 546.9 554.5 545.3 553.4 543.8 552.2 542.8 551 542.4 549.9 542.6 538.6 549.1 537.9 549.9 537.7 551.2 537.9 552.8 538.6 554.4 539.7 555.9 540.9 556.9 542.2 557.3 543.2 557.1Z" fill="#fff" stroke-width="1.1"/>
<ellipse rx="2.7" ry="4.6" transform="translate(540.9 553.1) rotate(-30)" fill="#fff" stroke-width="1.1"/>
<path d="M555.1 551.6 556 550.6 556.3 549 556 547 555.1 544.9 553.8 543.1 552.2 541.9 550.6 541.3 549.3 541.6 543.7 544.8 542.8 545.9 542.5 547.5 542.8 549.5 543.7 551.5 545 553.3 546.6 554.6 548.1 555.1 549.5 554.9Z" fill="#fff" stroke-width="1.2"/>
<ellipse rx="3.3" ry="5.8" transform="translate(546.6 549.9) rotate(-30)" fill="#fff" stroke-width="1.2"/>
<path d="M551.8 546.9 546.6 549.9" stroke-width="0.9"/>
<path d="M553 550.2 547.8 553.2" stroke-width="0.9"/>
<path d="M548.2 554.3 547.1 554.7 545.8 554.3 544.4 553.3 543.3 551.8 542.5 550 542.3 548.3 542.6 547 543.5 546.2M547 555 545.9 555.4 544.6 555 543.2 554 542.1 552.5 541.3 550.7 541.1 549 541.4 547.7 542.3 546.9M545.7 555.7 544.7 556.1 543.3 555.7 542 554.7 540.8 553.2 540.1 551.4 539.9 549.7 540.2 548.4 541.1 547.6" stroke-width="1.6" stroke="#000"/>
<path d="M542.5 563 543.7 561.7 544.3 559.8 544.3 557.5 543.7 554.8 542.5 552.2 540.8 549.9 538.9 548 536.8 546.8 534.8 546.4 533.2 546.8 530.7 548.3 529.5 549.5 528.8 551.4 528.8 553.8 529.5 556.4 530.7 559 532.3 561.4 534.3 563.3 536.3 564.4 538.3 564.8 540 564.4Z" fill="#fff" stroke-width="1.1"/>
<ellipse rx="5.4" ry="9.3" transform="translate(535.3 556.4) rotate(-30)" fill="#fff" stroke-width="1.1"/>
<path d="M565.2 532.4 697.6 455.6 700.6 455.2 701.4 459 700.6 474.6 571.2 548.4 570.5 535.6Z" fill="#fff" stroke-width="1.3"/>
<path d="M570.5 535.6 701.4 459" stroke-width="1.3"/>
<ellipse rx="4.3" ry="7.2" transform="translate(698.6 457.4) rotate(90)" fill="#fff" stroke-width="1"/>
<ellipse rx="3.6" ry="6.2" transform="translate(633.2 506.1) rotate(30)" fill="#fff"/>
<path d="M636 501 636.4 502.7 636.1 504.9 635.1 507.2 633.6 509.2 631.9 510.5 630.1 511.1" stroke-width="0.8"/>
<path d="M696.8 475.3 695.5 474.1 694.7 472.2 694.5 469.9 694.9 467.2 695.9 464.4 697.3 461.8 699.1 459.5 701.2 457.7 703.3 456.6 705.3 456.3 707 456.7 769.3 487.8 770.7 488.9 771.6 490.5 772.1 492.6 772.2 495 771.8 497.7 770.9 500.4 769.7 503.1 768.1 505.6 766.2 507.8 764.2 509.6 762.2 510.8 760.1 511.5 758.2 511.6 756.6 511.1Z" fill="#fff" stroke-width="1.2"/>
<ellipse rx="7.7" ry="13.3" transform="translate(762.9 499.4) rotate(28.7)" fill="#fff" stroke-width="1.2"/>
<ellipse rx="4.3" ry="7.2" transform="translate(698.6 457.4) rotate(90)" stroke-width="1"/>
<ellipse rx="4.2" ry="3.2" transform="translate(702.6 458.6) rotate(90)" stroke-width="0.9"/>
<ellipse rx="6.9" ry="12" transform="translate(762 498.9) rotate(30)" stroke-width="0.9"/>
<ellipse rx="3.5" ry="6" transform="translate(762.9 499.4) rotate(30)" stroke-width="1.1"/>
<ellipse rx="2.2" ry="3.8" transform="translate(762.9 499.4) rotate(30)" stroke-width="1"/>
<ellipse rx="0.8" ry="1.3" transform="translate(762.9 499.4) rotate(30)" stroke-width="0.9"/>
<text transform="translate(709.6 477.6) rotate(33.5) skewX(-30)" font-size="6" font-weight="bold" textLength="31" lengthAdjust="spacingAndGlyphs" class="t" style="word-spacing:0;stroke:#111;stroke-width:.9">SUMMER</text>
</g>
<g id="i3">
<path d="M584.9 562.2 584.5 561.8 584.4 561 584.5 560.1 584.9 559.1 585.6 558.3 586.3 557.7 587 557.4 587.6 557.6 591.5 559.8 591.9 560.2 592 561 591.9 561.9 591.5 562.9 590.8 563.7 590.1 564.3 589.4 564.6 588.8 564.4Z" fill="#fff" stroke-width="1.1"/>
<ellipse rx="1.6" ry="2.7" transform="translate(590.1 562.1) rotate(30)" fill="#fff" stroke-width="1.1"/>
<path d="M589 564.1 589.5 564.2 590.1 564 590.7 563.5 591.3 562.8 591.6 562 591.7 561.2 591.6 560.5 591.3 560.1 593.2 561.2 593.5 561.6 593.6 562.3 593.5 563.1 593.2 563.9 592.6 564.6 592 565.1 591.4 565.3 590.9 565.2Z" fill="#fff" stroke-width="1.5"/>
<ellipse rx="1.3" ry="2.3" transform="translate(592 563.2) rotate(30)" fill="#fff" stroke-width="1.5"/>
<path d="M590.2 566.3 589.7 565.7 589.5 564.7 589.7 563.4 590.2 562.2 591 561 592 560.3 593 559.9 593.8 560.1 608.1 568.3 608.7 569 608.9 570 608.7 571.2 608.1 572.5 607.3 573.6 606.3 574.4 605.3 574.7 604.5 574.6Z" fill="#fff" stroke-width="1.1"/>
<ellipse rx="2.1" ry="3.6" transform="translate(606.3 571.5) rotate(30)" fill="#fff" stroke-width="1.1"/>
<path d="M603.4 576.6 602.5 575.5 602.1 573.9 602.5 571.8 603.4 569.7 604.7 567.9 606.3 566.6 607.9 566.1 609.3 566.3 611.7 567.7 612.6 568.8 612.9 570.4 612.6 572.5 611.7 574.6 610.3 576.4 608.7 577.7 607.1 578.2 605.8 578Z" fill="#fff" stroke-width="1.1"/>
<ellipse rx="3.4" ry="5.9" transform="translate(608.7 572.9) rotate(30)" fill="#fff" stroke-width="1.1"/>
<ellipse rx="2.5" ry="4.4" transform="translate(608.7 572.9) rotate(30)" stroke-width="0.8"/>
<ellipse rx="1.3" ry="2.3" transform="translate(608.7 572.9) rotate(30)" stroke-width="1"/>
</g>
<g class="thin">
<path d="M253.2 318 259 321.2 373.5 254.8 380 258.3"/>
<path d="M255.6 351.9 261.3 355.2 322.4 320 331 325"/>
<path d="M257.5 354.6 263.5 358.2 283.9 346.3 289.6 349.7"/>
</g>
<g class="bal">
<circle cx="384.7" cy="127.5" r="14.7"/>
<path d="M374.8 138.9 335.1 184.9"/>
<path d="M335.1 184.9 337.7 179.9 339.7 181.6Z" fill="#111" stroke-width="0.4"/>
<text x="384.7" y="131.4" text-anchor="middle" font-size="11.4" class="t">6</text>
<circle cx="59.9" cy="171.9" r="14.7"/>
<path d="M58.3 186.3 55 216.4"/>
<path d="M55 216.4 54.3 210.8 56.9 211.1Z" fill="#111" stroke-width="0.4"/>
<text x="59.9" y="175.8" text-anchor="middle" font-size="11.4" class="t">4</text>
<circle cx="547.1" cy="327.5" r="14.7"/>
<path d="M537.5 339.5 493.3 392.2"/>
<path d="M493.3 392.2 495.8 387.2 497.8 388.8Z" fill="#111" stroke-width="0.4"/>
<text x="547.1" y="331.4" text-anchor="middle" font-size="11.4" class="t">7</text>
<circle cx="423.8" cy="358.5" r="14.7"/>
<path d="M409.8 354.7 380.1 348.2"/>
<path d="M380.1 348.2 385.8 348.1 385.2 350.6Z" fill="#111" stroke-width="0.4"/>
<text x="423.8" y="362.4" text-anchor="middle" font-size="11.4" class="t">8</text>
<circle cx="111.7" cy="446.4" r="14.7"/>
<path d="M119.4 432.4 134.8 403.6"/>
<path d="M134.8 403.6 133.4 409.1 131.1 407.8Z" fill="#111" stroke-width="0.4"/>
<text x="111.7" y="450.3" text-anchor="middle" font-size="11.4" class="t">5</text>
<circle cx="293.3" cy="494.3" r="14.7"/>
<path d="M299.9 480.7 324.4 436.2"/>
<path d="M324.4 436.2 322.9 441.6 320.6 440.4Z" fill="#111" stroke-width="0.4"/>
<text x="293.3" y="498.2" text-anchor="middle" font-size="11.4" class="t">9</text>
<circle cx="680" cy="546.9" r="14.7"/>
<path d="M665.5 541.4 629.7 530"/>
<path d="M629.7 530 635.3 530.4 634.5 532.9Z" fill="#111" stroke-width="0.4"/>
<text x="680" y="550.8" text-anchor="middle" font-size="11.4" class="t">2</text>
<circle cx="487" cy="585.2" r="14.7"/>
<path d="M491 570 501.1 524.6"/>
<path d="M501.1 524.6 501.2 530.3 498.6 529.7Z" fill="#111" stroke-width="0.4"/>
<text x="487" y="589.1" text-anchor="middle" font-size="11.4" class="t">1</text>
<circle cx="581.4" cy="632.4" r="14.7"/>
<path d="M584.5 617.3 595.3 571.5"/>
<path d="M595.3 571.5 595.3 577.2 592.8 576.6Z" fill="#111" stroke-width="0.4"/>
<text x="581.4" y="636.3" text-anchor="middle" font-size="11.4" class="t">3</text>
</g>
<g class="tbl">
<rect x="614.2" y="200.5" width="398.4" height="185.8"/>
<path d="M614.2 217.4H1012.6M614.2 234.3H1012.6M614.2 251.2H1012.6M614.2 268.1H1012.6M614.2 285H1012.6M614.2 301.9H1012.6M614.2 318.8H1012.6M614.2 335.7H1012.6M614.2 352.6H1012.6M614.2 369.5H1012.6M641.3 200.5V369.5M695.6 200.5V369.5M721.5 200.5V369.5"/>
</g>
<g class="tt">
<text x="628" y="212.5" text-anchor="middle" font-size="12.2" class="t">9</text>
<text y="212.5" font-size="12.2" class="t"><tspan x="643" textLength="44.3" lengthAdjust="spacingAndGlyphs">784195</tspan></text>
<text x="708.3" y="212.5" text-anchor="middle" font-size="12.2" class="t">1</text>
<text y="212.5" font-size="12.2" class="t"><tspan x="722.3" textLength="36.7" lengthAdjust="spacingAndGlyphs">BRAKE</tspan> <tspan x="767.1" textLength="44.3" lengthAdjust="spacingAndGlyphs">RACHET</tspan> <tspan x="819.6" textLength="19.7" lengthAdjust="spacingAndGlyphs">KIT,</tspan> <tspan x="847.4" textLength="29.1" lengthAdjust="spacingAndGlyphs">2300</tspan> <tspan x="884.5" textLength="24.2" lengthAdjust="spacingAndGlyphs">LIFT</tspan></text>
<text x="628" y="229.4" text-anchor="middle" font-size="12.2" class="t">8</text>
<text y="229.4" font-size="12.2" class="t"><tspan x="643" textLength="44.3" lengthAdjust="spacingAndGlyphs">784194</tspan></text>
<text x="708.3" y="229.4" text-anchor="middle" font-size="12.2" class="t">1</text>
<text y="229.4" font-size="12.2" class="t"><tspan x="722.3" textLength="37.3" lengthAdjust="spacingAndGlyphs">BRAKE</tspan> <tspan x="767.9" textLength="21.8" lengthAdjust="spacingAndGlyphs">DOG</tspan> <tspan x="797.9" textLength="20.1" lengthAdjust="spacingAndGlyphs">KIT,</tspan> <tspan x="826.2" textLength="29.6" lengthAdjust="spacingAndGlyphs">2300</tspan> <tspan x="864" textLength="24.6" lengthAdjust="spacingAndGlyphs">LIFT</tspan></text>
<text x="628" y="246.3" text-anchor="middle" font-size="12.2" class="t">7</text>
<text y="246.3" font-size="12.2" class="t"><tspan x="643" textLength="44.3" lengthAdjust="spacingAndGlyphs">784193</tspan></text>
<text x="708.3" y="246.3" text-anchor="middle" font-size="12.2" class="t">1</text>
<text y="246.3" font-size="12.2" class="t"><tspan x="722.3" textLength="33.8" lengthAdjust="spacingAndGlyphs">WINCH</tspan> <tspan x="764.4" textLength="41.2" lengthAdjust="spacingAndGlyphs">COVER,</tspan> <tspan x="814" textLength="30" lengthAdjust="spacingAndGlyphs">2300</tspan> <tspan x="852.4" textLength="24.9" lengthAdjust="spacingAndGlyphs">LIFT</tspan></text>
<text x="628" y="263.2" text-anchor="middle" font-size="12.2" class="t">6</text>
<text y="263.2" font-size="12.2" class="t"><tspan x="643" textLength="44.3" lengthAdjust="spacingAndGlyphs">784192</tspan></text>
<text x="708.3" y="263.2" text-anchor="middle" font-size="12.2" class="t">1</text>
<text y="263.2" font-size="12.2" class="t"><tspan x="722.3" textLength="33.7" lengthAdjust="spacingAndGlyphs">WINCH</tspan> <tspan x="764.4" textLength="30.8" lengthAdjust="spacingAndGlyphs">DRUM</tspan> <tspan x="803.5" textLength="57.9" lengthAdjust="spacingAndGlyphs">W/SHAFT,</tspan> <tspan x="869.8" textLength="30" lengthAdjust="spacingAndGlyphs">2300</tspan> <tspan x="908.1" textLength="24.9" lengthAdjust="spacingAndGlyphs">LIFT</tspan></text>
<text x="628" y="280.1" text-anchor="middle" font-size="12.2" class="t">5</text>
<text y="280.1" font-size="12.2" class="t"><tspan x="643" textLength="44.3" lengthAdjust="spacingAndGlyphs">784191</tspan></text>
<text x="708.3" y="280.1" text-anchor="middle" font-size="12.2" class="t">1</text>
<text y="280.1" font-size="12.2" class="t"><tspan x="722.3" textLength="34.2" lengthAdjust="spacingAndGlyphs">WINCH</tspan> <tspan x="765" textLength="49.2" lengthAdjust="spacingAndGlyphs">HOUSING</tspan> <tspan x="822.6" textLength="60.5" lengthAdjust="spacingAndGlyphs">BEARINGS,</tspan> <tspan x="891.6" textLength="30.4" lengthAdjust="spacingAndGlyphs">2300</tspan> <tspan x="930.5" textLength="25.2" lengthAdjust="spacingAndGlyphs">LIFT</tspan></text>
<text x="628" y="297" text-anchor="middle" font-size="12.2" class="t">4</text>
<text y="297" font-size="12.2" class="t"><tspan x="643" textLength="44.3" lengthAdjust="spacingAndGlyphs">784190</tspan></text>
<text x="708.3" y="297" text-anchor="middle" font-size="12.2" class="t">1</text>
<text y="297" font-size="12.2" class="t"><tspan x="722.3" textLength="33.1" lengthAdjust="spacingAndGlyphs">WINCH</tspan> <tspan x="763.6" textLength="37.2" lengthAdjust="spacingAndGlyphs">SHAFT</tspan> <tspan x="809" textLength="20" lengthAdjust="spacingAndGlyphs">KIT,</tspan> <tspan x="837.2" textLength="29.4" lengthAdjust="spacingAndGlyphs">2300</tspan> <tspan x="874.8" textLength="24.5" lengthAdjust="spacingAndGlyphs">LIFT</tspan></text>
<text x="628" y="313.9" text-anchor="middle" font-size="12.2" class="t">3</text>
<text y="313.9" font-size="12.2" class="t"><tspan x="643" textLength="44.3" lengthAdjust="spacingAndGlyphs">771362</tspan></text>
<text x="708.3" y="313.9" text-anchor="middle" font-size="12.2" class="t">1</text>
<text y="313.9" font-size="12.2" class="t"><tspan x="722.3" textLength="42.8" lengthAdjust="spacingAndGlyphs">SCREW,</tspan> <tspan x="773.6" textLength="62.6" lengthAdjust="spacingAndGlyphs">SHOULDER</tspan> <tspan x="844.7" textLength="15.2" lengthAdjust="spacingAndGlyphs">M8</tspan> <tspan x="868.5" textLength="6.4" lengthAdjust="spacingAndGlyphs">X</tspan> <tspan x="883.4" textLength="14.4" lengthAdjust="spacingAndGlyphs">35</tspan> <tspan x="906.3" textLength="22.5" lengthAdjust="spacingAndGlyphs">THD</tspan> <tspan x="937.3" textLength="49.4" lengthAdjust="spacingAndGlyphs">LOCKING</tspan></text>
<text x="628" y="330.8" text-anchor="middle" font-size="12.2" class="t">2</text>
<text y="330.8" font-size="12.2" class="t"><tspan x="643" textLength="44.3" lengthAdjust="spacingAndGlyphs">784289</tspan></text>
<text x="708.3" y="330.8" text-anchor="middle" font-size="12.2" class="t">2</text>
<text y="330.8" font-size="12.2" class="t"><tspan x="722.3" textLength="33.1" lengthAdjust="spacingAndGlyphs">WINCH</tspan> <tspan x="763.6" textLength="44.8" lengthAdjust="spacingAndGlyphs">HANDLE</tspan> <tspan x="816.6" textLength="64.3" lengthAdjust="spacingAndGlyphs">ASSEMBLY,</tspan> <tspan x="889" textLength="29.4" lengthAdjust="spacingAndGlyphs">2300</tspan> <tspan x="926.6" textLength="24.4" lengthAdjust="spacingAndGlyphs">LIFT</tspan></text>
<text x="628" y="347.7" text-anchor="middle" font-size="12.2" class="t">1</text>
<text y="347.7" font-size="12.2" class="t"><tspan x="643" textLength="44.3" lengthAdjust="spacingAndGlyphs">779982</tspan></text>
<text x="708.3" y="347.7" text-anchor="middle" font-size="12.2" class="t">1</text>
<text y="347.7" font-size="12.2" class="t"><tspan x="722.3" textLength="33.1" lengthAdjust="spacingAndGlyphs">WINCH</tspan> <tspan x="763.7" textLength="44.9" lengthAdjust="spacingAndGlyphs">HANDLE</tspan> <tspan x="816.8" textLength="55.9" lengthAdjust="spacingAndGlyphs">ADAPTER,</tspan> <tspan x="880.9" textLength="29.4" lengthAdjust="spacingAndGlyphs">2300</tspan> <tspan x="918.6" textLength="40" lengthAdjust="spacingAndGlyphs">SERIES</tspan> <tspan x="966.7" textLength="24.5" lengthAdjust="spacingAndGlyphs">LIFT</tspan></text>
<text y="364.1" font-size="12.2" class="t"><tspan x="615.2" textLength="24" lengthAdjust="spacingAndGlyphs">Item</tspan></text>
<text y="364.1" font-size="12.2" class="t"><tspan x="642.8" textLength="21.2" lengthAdjust="spacingAndGlyphs">Part</tspan> <tspan x="671" textLength="22.5" lengthAdjust="spacingAndGlyphs">No.</tspan></text>
<text y="364.1" font-size="12.2" class="t"><tspan x="698.2" textLength="19" lengthAdjust="spacingAndGlyphs">Qty</tspan></text>
<text y="364.1" font-size="12.2" class="t"><tspan x="834.1" textLength="64.1" lengthAdjust="spacingAndGlyphs">Description</tspan></text>
<text y="381.5" font-size="12.2" class="t"><tspan x="783.4" textLength="29.9" lengthAdjust="spacingAndGlyphs">Parts</tspan> <tspan x="821.8" textLength="20.2" lengthAdjust="spacingAndGlyphs">List</tspan></text>
</g>
<text y="47" font-size="13.8" class="t"><tspan x="344" textLength="50.4" lengthAdjust="spacingAndGlyphs">784338</tspan> <tspan x="407.2" textLength="8.2" lengthAdjust="spacingAndGlyphs">&#8211;</tspan> <tspan x="424.7" textLength="40.9" lengthAdjust="spacingAndGlyphs">WINCH</tspan> <tspan x="474.7" textLength="67.4" lengthAdjust="spacingAndGlyphs">ASSEMBLY,</tspan> <tspan x="556.1" textLength="33.4" lengthAdjust="spacingAndGlyphs">2300</tspan> <tspan x="599.7" textLength="26.5" lengthAdjust="spacingAndGlyphs">LIFT</tspan> <tspan x="634.9" textLength="69.3" lengthAdjust="spacingAndGlyphs">W/HANDLE</tspan></text>
</svg>
</body></html>
